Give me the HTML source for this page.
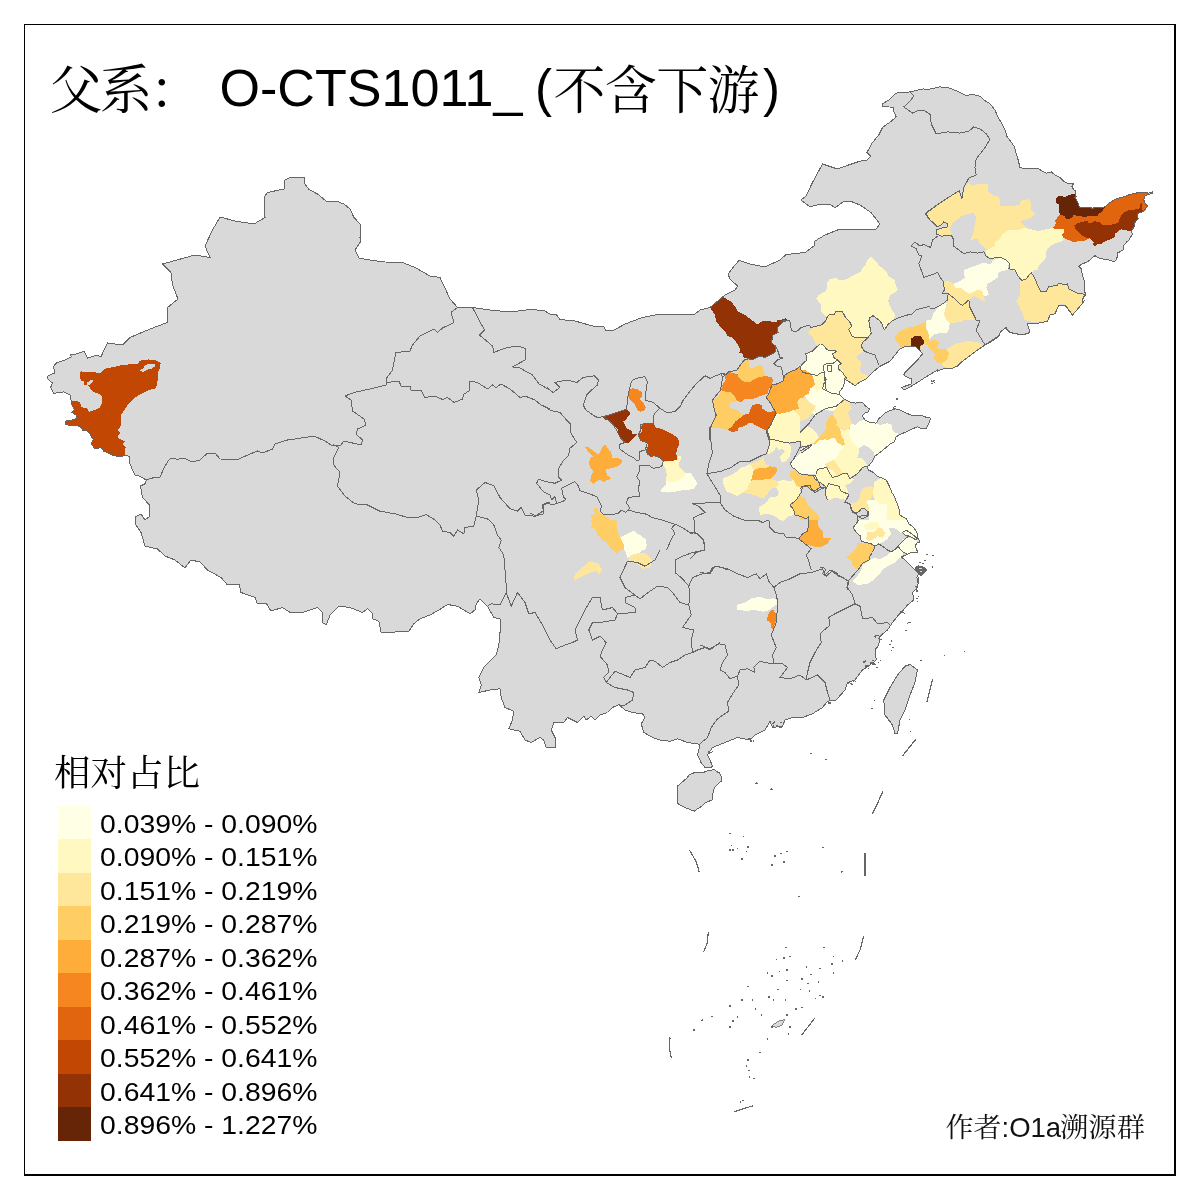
<!DOCTYPE html>
<html lang="zh"><head><meta charset="utf-8"><title>父系 O-CTS1011_</title>
<style>
html,body{margin:0;padding:0;background:#fff}
body{width:1200px;height:1200px;overflow:hidden;position:relative;font-family:"Liberation Sans","Noto Serif CJK SC",sans-serif}
svg{position:absolute;left:0;top:0;display:block}
.cjk{font-family:"Liberation Serif","Noto Serif CJK SC",serif;font-weight:400}
.lat{font-family:"Liberation Sans",sans-serif}
</style></head><body>
<svg width="1200" height="1200" viewBox="0 0 1200 1200" shape-rendering="crispEdges">
<rect x="0" y="0" width="1200" height="1200" fill="#fff"/>

<g fill="#d9d9d9" stroke="#666" stroke-width="1" stroke-linejoin="round">
<path d="M304,177 291,177 285,180 284,189 267.5,192.5 264,197.5 264,204 265,217.5 254,224 235,221 220,217 212.5,230 205,246 210,257.5 195,255 162.5,264 171,272.5 172.5,285 178,299 167.5,307.5 167.5,322.5 150,329 130,337.5 122.5,345 107.5,343 101.2,356.2 95,355.6 87.5,358.1 85.6,353.8 83.8,351.2 77.5,353.8 70.6,355 71.2,356.9 65,360 56.2,363.1 53.8,366.2 54.4,373.1 47.5,376.2 48.1,379.4 52.5,383.1 50.6,387.5 52.5,391.2 53.8,393.8 57.5,392.5 63.8,391.9 70,395 71.2,400.6 71.9,405 74.4,409.4 71.9,412.5 76.2,415 76.9,418.1 72.5,420 65,421.2 65,423.8 70,425.6 73.8,425.6 80,426.2 82.5,430 87.5,431.2 90,433.8 93.1,439.4 91.2,443.8 95,448.8 101.2,447.5 103.8,451.2 108.1,453.1 113.8,455.6 120,456.9 124.4,455.6 129.4,456.2 130,463.8 132.5,470 135,475 140,476.2 146.2,480 145,483.8 140,486.2 141.2,490 142.5,497.5 149.5,505 150,516 145,520 141,514 135,517 136,525 141,532.5 145,546 157.5,549 165,556 175,560 185,568 191,560 200,562 207.5,570 221,577.5 227.5,585 239,584 241,592.5 255,597.5 257.5,604 266,603 271,611 282.5,607.5 291,613 302.5,612.5 317.5,607.5 322.5,612.5 322.5,622.5 326.2,625 330,615 338.8,606.2 350,607.5 362.5,612.5 367.5,608.8 372.5,613.8 372.5,618.8 378.8,621.2 381.2,632.5 395,632 408.8,631.2 413.8,623.8 420,618.8 430,615 438.8,610 447.5,604.5 457.5,606.2 470,613.8 475,610 476.2,603.8 480,598.8 487.5,606.2 493.8,617.5 500,618.8 500,632.5 498.8,645 496.2,655 491.2,660 483.8,667.5 478.8,677.5 481.2,685 478.8,692.5 490,690 500,688.8 501.2,697.5 505,707.5 513.8,711.2 512.5,720 508.8,728.8 520,731.2 525,740 531.2,742.5 540,737.5 543.8,740 546.2,747.5 555,748 555,737.5 551.2,730 553.8,722.5 563.8,722.5 567.5,717.5 577.5,722.5 583.8,716.2 586.2,720 591.2,716.2 595,720 600,715 607.5,712.5 612.5,707.5 618.8,704.5 625,710 632.5,712.5 642.5,713.8 645,717.5 641.2,723.8 643.8,732.5 652.5,737.5 660,740 670,741.2 677.5,738.8 687.5,742.5 697.5,743.8 700,745 697.5,755 701,762.5 705,767.5 711,767.5 712.5,766 710,760 707.5,755 712.5,747.5 725,742.5 737.5,737.5 750,740 755,735 765,730 770,721.2 772.5,727.5 782.5,726.2 785,720 792.5,717.5 802.5,717.5 812.5,713.8 822.5,707.5 827.5,701.2 836.2,700 845,690 847.5,682.5 855,680 862.5,670 870,665 876.2,660 875,650 878.8,645 880,636.2 887.5,630 892.5,622.5 897.5,616.2 902.5,611.2 907.5,605 913.8,600 912.5,592.5 917.5,587.5 918.8,577.5 917.5,582.5 916.9,577.5 918.8,573.8 915,570 910,565 905,560 901.2,556.9 907.5,554.4 910,552.9 917.5,552.9 916.9,550 915,546.2 916.9,543.1 920,541.9 917.5,537.5 916.9,532.5 913.8,527.5 908.8,523.8 906.2,518.8 900,515 898.8,508.1 896.2,501.2 893.1,493.8 892.5,493.8 888.8,485 886.2,480 877.5,476.2 872.5,471.9 868.1,470 867.5,466.2 869.4,465 872.5,461.2 875,456.2 880,452.5 886.2,447.5 890,443.8 893.8,442.5 896.2,436.9 900,434.4 906.2,431.9 912.5,428.8 917.5,426.9 921.9,428.8 926.2,428.8 928.8,423.8 930.6,418.1 925,416.9 920,415 912.5,415.6 906.2,413.1 900,410 895,408.8 890,410.6 885,413.1 878.8,418.8 876.2,423.1 870,422.5 865,420 862.5,416.2 864.4,413.1 868.1,411.9 869.4,408.8 865.6,406.2 862.5,402.5 855,403.1 850,401.9 843.8,398.8 839.4,394.4 840,391.2 843.8,386.2 844.4,378.8 855,385.6 860,381.9 866.2,378.8 868.8,376.2 872.5,372.5 880,366.2 890,361.2 895,355 900,348.8 906.2,346.2 911.2,346.2 915.6,346.9 920,350.6 922.5,353.8 917.5,360 911.2,366.2 905,372.5 903.8,375 907.5,377.5 911.2,378.8 911.9,383.8 905,386.2 901.2,387.5 903.8,390 911.2,386.2 917.5,382.5 925,377.5 931.2,373.8 937.5,370 937.5,371.2 945,368.1 952.5,368.1 957.5,366.2 962.5,361.2 967.5,357.5 972.5,353.8 977.5,350 983.1,346.2 990,342.5 997.5,337.5 1001.2,331.2 1006.2,327.5 1006.2,328.8 1010,332.5 1022.5,335 1030,332.5 1027.5,323.8 1035,323.8 1047.5,321.2 1050,315 1055,313.8 1058.8,305 1065,305 1072.5,315 1080,306.2 1085,300 1080,306.2 1082.5,303.8 1083.1,297.5 1085.6,295 1085,292.5 1084.4,281.2 1082.5,275 1081.2,268.8 1078.8,266.2 1082.5,263.8 1087.5,261.9 1091.2,258.8 1095,255.6 1100,258.8 1107.5,259.4 1114.4,261.9 1116.9,258.8 1117.5,252.5 1120,251.9 1123.8,249.4 1123.1,246.2 1126.2,242.5 1128.8,240 1132.5,234.4 1131.2,231.2 1133.8,227.5 1135,222.5 1138.1,218.8 1137.5,213.8 1143.8,211.2 1147.5,206.2 1145,203.1 1143.8,200 1145,195.6 1148.8,194.4 1152.5,193.5 1152.5,191.9 1148.8,193.1 1145,192.8 1137.5,192.8 1130,194.4 1123.8,196.9 1116.2,198.8 1108.8,203.1 1105,206.9 1092.5,208.1 1086.2,207.5 1079.4,207.5 1078.1,203.1 1075,197.5 1076.2,196.2 1075,193.8 1075.6,190.6 1073.8,190 1071.9,186.2 1073.8,183.1 1067.5,183.1 1063.8,181.2 1060,177.5 1055,175 1051.2,171.9 1046.2,173.1 1042.5,171.2 1038.8,168.8 1032.5,168.8 1025,168.8 1020,167.5 1017.5,157.5 1014,146 1010,140.6 1006.9,136.2 1005,130 1001.2,122.5 997.5,116.2 995,110 990,103.8 985,100.6 980,96.2 972.5,94.4 966.2,95.6 958.8,91.9 950,88.1 940,86.9 925,90 923.8,88.8 910,91.9 896.2,93.1 888.8,100 882.5,103.8 882.5,106.2 893.8,107.5 893.8,111.2 896.2,116.9 891.2,121.2 882.5,127.5 878.8,135 872.5,142.5 866.9,152.5 870.6,156.2 866.9,160 860,161.2 850,164.5 837.5,169 822.5,164 812.5,182.5 806,196 801,200 810,207 820,204 830,204 835,208 844,201 850,201 860,205 871,212.5 880,224 876,229 862.5,230 850,229.5 837.5,230 825,235 815,241 814,246 805,252.5 786,254.5 780,260 765,267 750,264 739,260.5 735,265 728,274 730,279 737.5,286 735,290 725,295 710,307.5 700,310 695,314 680,315 657.5,314.5 642.5,317.5 625,324 612.5,331 606,330.5 604,327 592.5,326 575,321 560,319.5 556,314 550,314 544,310.5 530,309.5 510,312 490,310 472.5,307.5 457.5,307.5 450,299 444,286 440,277.5 430,276 415,267.5 402.5,262.5 385,262 372.5,260.5 359,258 355,250 361,241 360,237.5 361,225 354,217.5 350,209 344,204 336,201 326,201 317.5,194 309,189.5 305,184Z"/>
<path d="M677.9,785.8 687.5,777.5 689.2,774.6 695,772.5 697.5,772.9 704.2,772.1 709.2,770.4 714.2,769.6 717.5,772.1 719.6,772.5 721.7,778.3 721.2,781.2 717.5,784.2 714.2,788.3 712.5,795 712.1,800 705.8,802.5 702.5,805.8 698.3,808.3 694.2,811.2 689.2,809.2 683.3,806.7 678.3,804.2 677.1,801.7 677.9,797.5 677.1,793.3Z"/>
<path d="M910,664.5 917.5,670 915,682.5 910,695 905,710 900,720 897.5,733.8 895,733.8 892.5,725 885,715 883.8,700 890,687.5 897.5,675 905,666.2Z"/>
<path d="M902.5,532.5 906.2,530 912.5,534.4 917.5,538.8 916.2,540 910,536.2 905,535Z"/>
</g>
<g fill="#fff" stroke="#666" stroke-width="1">
</g>
<clipPath id="landclip">
<path d="M304,177 291,177 285,180 284,189 267.5,192.5 264,197.5 264,204 265,217.5 254,224 235,221 220,217 212.5,230 205,246 210,257.5 195,255 162.5,264 171,272.5 172.5,285 178,299 167.5,307.5 167.5,322.5 150,329 130,337.5 122.5,345 107.5,343 101.2,356.2 95,355.6 87.5,358.1 85.6,353.8 83.8,351.2 77.5,353.8 70.6,355 71.2,356.9 65,360 56.2,363.1 53.8,366.2 54.4,373.1 47.5,376.2 48.1,379.4 52.5,383.1 50.6,387.5 52.5,391.2 53.8,393.8 57.5,392.5 63.8,391.9 70,395 71.2,400.6 71.9,405 74.4,409.4 71.9,412.5 76.2,415 76.9,418.1 72.5,420 65,421.2 65,423.8 70,425.6 73.8,425.6 80,426.2 82.5,430 87.5,431.2 90,433.8 93.1,439.4 91.2,443.8 95,448.8 101.2,447.5 103.8,451.2 108.1,453.1 113.8,455.6 120,456.9 124.4,455.6 129.4,456.2 130,463.8 132.5,470 135,475 140,476.2 146.2,480 145,483.8 140,486.2 141.2,490 142.5,497.5 149.5,505 150,516 145,520 141,514 135,517 136,525 141,532.5 145,546 157.5,549 165,556 175,560 185,568 191,560 200,562 207.5,570 221,577.5 227.5,585 239,584 241,592.5 255,597.5 257.5,604 266,603 271,611 282.5,607.5 291,613 302.5,612.5 317.5,607.5 322.5,612.5 322.5,622.5 326.2,625 330,615 338.8,606.2 350,607.5 362.5,612.5 367.5,608.8 372.5,613.8 372.5,618.8 378.8,621.2 381.2,632.5 395,632 408.8,631.2 413.8,623.8 420,618.8 430,615 438.8,610 447.5,604.5 457.5,606.2 470,613.8 475,610 476.2,603.8 480,598.8 487.5,606.2 493.8,617.5 500,618.8 500,632.5 498.8,645 496.2,655 491.2,660 483.8,667.5 478.8,677.5 481.2,685 478.8,692.5 490,690 500,688.8 501.2,697.5 505,707.5 513.8,711.2 512.5,720 508.8,728.8 520,731.2 525,740 531.2,742.5 540,737.5 543.8,740 546.2,747.5 555,748 555,737.5 551.2,730 553.8,722.5 563.8,722.5 567.5,717.5 577.5,722.5 583.8,716.2 586.2,720 591.2,716.2 595,720 600,715 607.5,712.5 612.5,707.5 618.8,704.5 625,710 632.5,712.5 642.5,713.8 645,717.5 641.2,723.8 643.8,732.5 652.5,737.5 660,740 670,741.2 677.5,738.8 687.5,742.5 697.5,743.8 700,745 697.5,755 701,762.5 705,767.5 711,767.5 712.5,766 710,760 707.5,755 712.5,747.5 725,742.5 737.5,737.5 750,740 755,735 765,730 770,721.2 772.5,727.5 782.5,726.2 785,720 792.5,717.5 802.5,717.5 812.5,713.8 822.5,707.5 827.5,701.2 836.2,700 845,690 847.5,682.5 855,680 862.5,670 870,665 876.2,660 875,650 878.8,645 880,636.2 887.5,630 892.5,622.5 897.5,616.2 902.5,611.2 907.5,605 913.8,600 912.5,592.5 917.5,587.5 918.8,577.5 917.5,582.5 916.9,577.5 918.8,573.8 915,570 910,565 905,560 901.2,556.9 907.5,554.4 910,552.9 917.5,552.9 916.9,550 915,546.2 916.9,543.1 920,541.9 917.5,537.5 916.9,532.5 913.8,527.5 908.8,523.8 906.2,518.8 900,515 898.8,508.1 896.2,501.2 893.1,493.8 892.5,493.8 888.8,485 886.2,480 877.5,476.2 872.5,471.9 868.1,470 867.5,466.2 869.4,465 872.5,461.2 875,456.2 880,452.5 886.2,447.5 890,443.8 893.8,442.5 896.2,436.9 900,434.4 906.2,431.9 912.5,428.8 917.5,426.9 921.9,428.8 926.2,428.8 928.8,423.8 930.6,418.1 925,416.9 920,415 912.5,415.6 906.2,413.1 900,410 895,408.8 890,410.6 885,413.1 878.8,418.8 876.2,423.1 870,422.5 865,420 862.5,416.2 864.4,413.1 868.1,411.9 869.4,408.8 865.6,406.2 862.5,402.5 855,403.1 850,401.9 843.8,398.8 839.4,394.4 840,391.2 843.8,386.2 844.4,378.8 855,385.6 860,381.9 866.2,378.8 868.8,376.2 872.5,372.5 880,366.2 890,361.2 895,355 900,348.8 906.2,346.2 911.2,346.2 915.6,346.9 920,350.6 922.5,353.8 917.5,360 911.2,366.2 905,372.5 903.8,375 907.5,377.5 911.2,378.8 911.9,383.8 905,386.2 901.2,387.5 903.8,390 911.2,386.2 917.5,382.5 925,377.5 931.2,373.8 937.5,370 937.5,371.2 945,368.1 952.5,368.1 957.5,366.2 962.5,361.2 967.5,357.5 972.5,353.8 977.5,350 983.1,346.2 990,342.5 997.5,337.5 1001.2,331.2 1006.2,327.5 1006.2,328.8 1010,332.5 1022.5,335 1030,332.5 1027.5,323.8 1035,323.8 1047.5,321.2 1050,315 1055,313.8 1058.8,305 1065,305 1072.5,315 1080,306.2 1085,300 1080,306.2 1082.5,303.8 1083.1,297.5 1085.6,295 1085,292.5 1084.4,281.2 1082.5,275 1081.2,268.8 1078.8,266.2 1082.5,263.8 1087.5,261.9 1091.2,258.8 1095,255.6 1100,258.8 1107.5,259.4 1114.4,261.9 1116.9,258.8 1117.5,252.5 1120,251.9 1123.8,249.4 1123.1,246.2 1126.2,242.5 1128.8,240 1132.5,234.4 1131.2,231.2 1133.8,227.5 1135,222.5 1138.1,218.8 1137.5,213.8 1143.8,211.2 1147.5,206.2 1145,203.1 1143.8,200 1145,195.6 1148.8,194.4 1152.5,193.5 1152.5,191.9 1148.8,193.1 1145,192.8 1137.5,192.8 1130,194.4 1123.8,196.9 1116.2,198.8 1108.8,203.1 1105,206.9 1092.5,208.1 1086.2,207.5 1079.4,207.5 1078.1,203.1 1075,197.5 1076.2,196.2 1075,193.8 1075.6,190.6 1073.8,190 1071.9,186.2 1073.8,183.1 1067.5,183.1 1063.8,181.2 1060,177.5 1055,175 1051.2,171.9 1046.2,173.1 1042.5,171.2 1038.8,168.8 1032.5,168.8 1025,168.8 1020,167.5 1017.5,157.5 1014,146 1010,140.6 1006.9,136.2 1005,130 1001.2,122.5 997.5,116.2 995,110 990,103.8 985,100.6 980,96.2 972.5,94.4 966.2,95.6 958.8,91.9 950,88.1 940,86.9 925,90 923.8,88.8 910,91.9 896.2,93.1 888.8,100 882.5,103.8 882.5,106.2 893.8,107.5 893.8,111.2 896.2,116.9 891.2,121.2 882.5,127.5 878.8,135 872.5,142.5 866.9,152.5 870.6,156.2 866.9,160 860,161.2 850,164.5 837.5,169 822.5,164 812.5,182.5 806,196 801,200 810,207 820,204 830,204 835,208 844,201 850,201 860,205 871,212.5 880,224 876,229 862.5,230 850,229.5 837.5,230 825,235 815,241 814,246 805,252.5 786,254.5 780,260 765,267 750,264 739,260.5 735,265 728,274 730,279 737.5,286 735,290 725,295 710,307.5 700,310 695,314 680,315 657.5,314.5 642.5,317.5 625,324 612.5,331 606,330.5 604,327 592.5,326 575,321 560,319.5 556,314 550,314 544,310.5 530,309.5 510,312 490,310 472.5,307.5 457.5,307.5 450,299 444,286 440,277.5 430,276 415,267.5 402.5,262.5 385,262 372.5,260.5 359,258 355,250 361,241 360,237.5 361,225 354,217.5 350,209 344,204 336,201 326,201 317.5,194 309,189.5 305,184Z"/>
<path d="M677.9,785.8 687.5,777.5 689.2,774.6 695,772.5 697.5,772.9 704.2,772.1 709.2,770.4 714.2,769.6 717.5,772.1 719.6,772.5 721.7,778.3 721.2,781.2 717.5,784.2 714.2,788.3 712.5,795 712.1,800 705.8,802.5 702.5,805.8 698.3,808.3 694.2,811.2 689.2,809.2 683.3,806.7 678.3,804.2 677.1,801.7 677.9,797.5 677.1,793.3Z"/>
<path d="M910,664.5 917.5,670 915,682.5 910,695 905,710 900,720 897.5,733.8 895,733.8 892.5,725 885,715 883.8,700 890,687.5 897.5,675 905,666.2Z"/>
<path d="M902.5,532.5 906.2,530 912.5,534.4 917.5,538.8 916.2,540 910,536.2 905,535Z"/>
</clipPath>
<g stroke="none" clip-path="url(#landclip)">
<path fill="#c14702" d="M79.4,376.2 80.6,371.2 86.2,372.5 92.5,371.9 100,373.1 106.2,368.1 115,366.9 121.2,365 130,364.4 137.5,363.8 140,360.6 148.8,359.4 156.2,360.6 160.6,363.1 160,367.5 157.5,373.8 157.5,381.2 156.2,388.1 148.8,390 141.2,393.8 135,397.5 128.8,403.8 125,408.8 121.2,415 121.2,425 118.1,430 120,433.1 117.5,436.9 121.2,440 125,441.2 122.5,444.4 125.6,447.5 124.4,455.6 120,456.9 113.8,455.6 108.1,453.1 103.8,451.2 101.2,447.5 95,448.8 91.2,443.8 93.1,439.4 90,433.8 87.5,431.2 82.5,430 80,426.2 73.8,425.6 70,425.6 65,423.8 65,421.2 72.5,420 76.9,418.1 76.2,415 71.9,412.5 74.4,409.4 71.9,405 71.2,400.6 76.2,400.6 80,402.5 81.2,406.9 87.5,408.8 88.8,411.9 95,410 100,407.5 101.9,402.5 101.9,396.9 98.8,393.8 93.8,391.9 90,388.1 88.1,385.6 91.2,383.8 93.8,380.6 90.6,380 87.5,382.5 86.2,385.6 83.8,385 84.4,381.2 81.2,380.6Z"/>
<path fill="#fee79b" d="M925,212.5 960,190 962.5,196 970,182.5 986,184 987.5,192.5 999,196 1000,207.5 1010,205 1022.5,200 1030,201 1030,210 1035,215 1025,222.5 1022.5,229 1010,229 1000,236 994,247.5 986,250 980,240 970,240 975,232.5 976,215 967.5,212.5 955,219 950,227.5 951,235 935,235 936,230 946,226 945,222.5 935,226Z"/>
<path fill="#fff8c1" d="M994,247.5 1000,236 1010,229 1025,230 1040,231 1052.5,229 1064,230 1062.5,239 1055,245 1047.5,250 1042.5,262.5 1035,270 1030,272.5 1022.5,281 1016,272.5 1010,270 1007.5,260 1000,257.5 990,260 985,254Z"/>
<path fill="#fee79b" d="M1022.5,281 1030,272.5 1035,277.5 1040,291 1047.5,287.5 1057.5,284 1067.5,282.5 1070,290 1084,294 1080,304 1074,315 1067.5,309 1057.5,306 1055,315 1047.5,321 1035,322.5 1025,320 1022.5,312.5 1016,300 1020,291Z"/>
<path fill="#ffffe5" d="M955,285 964,271 975,265 990,260 1000,257.5 1007.5,260 1007.5,269 997.5,272.5 990,280 986,287.5 987.5,296 980,295 975,291 970,299 965,295 957.5,290Z"/>
<path fill="#fee79b" d="M944,282.5 955,285 957.5,290 965,295 966,305 960,301 950,295 944,291Z"/>
<path fill="#fee79b" d="M948.1,296.2 950,293.8 960,305 967.5,301.2 971.9,312.5 967.5,315.6 963.1,316.9 962.5,321.9 956.2,322.5 950,323.1 946.2,320 944.4,315 948.1,312.5 945.6,307.5 947.5,302.5Z"/>
<path fill="#ffffe5" d="M945.6,307.5 948.1,312.5 944.4,315 946.2,320 950,323.1 948.8,328.8 947.5,332.5 941.2,333.1 935,333.8 929.4,338.8 928.1,332.5 926.2,328.8 925,322.5 927.5,320 932.5,316.9 933.8,312.5 938.8,308.8 942.5,305Z"/>
<path fill="#fece65" d="M895,336.9 897.5,333.1 902.5,330 908.8,327.5 915,326.9 921.2,323.1 925,321.9 926.2,328.8 928.1,332.5 929.4,338.8 925,342.5 921.2,347.5 918.1,348.8 913.8,346.2 906.2,346.2 902.5,346.9 898.8,343.8 895.6,340Z"/>
<path fill="#662506" d="M910.6,338.1 915,336.9 921.2,335.6 921.9,338.8 924.4,340 923.8,343.8 920.6,345.6 920,350 918.1,348.8 915.6,346.2 911.2,346.2Z"/>
<path fill="#fece65" d="M926.9,341.9 933.8,340 938.1,340.6 938.8,343.8 936.2,348.1 941.2,348.8 946.2,349.4 948.8,352.5 948.1,358.1 945,361.2 941.9,363.8 937.5,362.5 933.8,359.4 935,353.8 931.2,350.6 928.8,346.2 925.6,344.4Z"/>
<path fill="#fee79b" d="M946.2,349.4 955,343.8 966.2,341.2 976.2,341.9 981.2,343.8 983.1,346.2 977.5,350 972.5,353.8 967.5,357.5 962.5,361.2 957.5,366.2 952.5,368.1 947.5,368.8 943.8,366.2 941.9,363.8 945,361.2 948.1,358.1 948.8,352.5Z"/>
<path fill="#fee79b" d="M943.8,290 966.2,290 968.8,298.8 967.5,301.2 960,305 950,293.8 946.2,293.8Z"/>
<path fill="#fece65" d="M593.3,507.5 596.7,507.5 599.2,512.5 606.7,516.7 610,520 617.5,521.7 616.7,533.3 620.8,538.3 624.2,545 623.3,550 613.3,550 608.3,543.3 601.7,540 596.7,533.3 595.8,529.2 590.8,527.5 592.5,524.2 596.7,521.7 591.7,518.3 590.8,515 595,514.2Z"/>
<path fill="#ffffe5" d="M620.8,538.3 628.3,534.2 634.2,530.8 638.3,535 645,538.3 646.7,545 645,550 624.2,550 624.2,545Z"/>
<path fill="#ffffe5" d="M736.7,605 745,602.5 751.7,598.3 760,596.7 766.7,599.2 773.3,598.3 777.5,600 777.5,604.2 773.3,606.7 770,610 763.3,611.7 755,610 746.7,610.8 737.5,610Z"/>
<path fill="#f68720" d="M770,610.8 773.3,610 776.7,615 777.5,619.2 775,623.3 773.3,629.2 771.7,629.2 770.8,623.3 766.7,620 768.3,615Z"/>
<path fill="#fff8c1" d="M873.8,482.5 878.8,477.5 887.5,480.6 889.4,486.2 893.1,493.8 896.2,501.2 898.8,508.1 900,515 895,515 890,513.8 885,513.8 883.8,507.5 878.8,502.5 873.8,498.8 871.2,493.8 873.8,488.8Z"/>
<path fill="#fee79b" d="M861.2,490 866.2,485.6 873.8,486.2 873.8,488.8 871.2,493.8 873.8,498.8 870,500 866.2,501.9 868.8,506.2 869.4,510 867.5,512.5 865,508.8 861.9,508.1 860,511.2 856.2,513.8 852.5,511.9 850,505 851.2,503.1 858.8,501.2 860,495Z"/>
<path fill="#ffffe5" d="M866.2,501.9 870,500 873.8,498.8 878.8,502.5 883.8,507.5 885,513.8 890,513.8 895,515 900,515 906.2,518.8 908.8,523.8 913.8,527.5 916.9,532.5 917.5,537.5 912.5,534.4 906.2,530 902.5,532.5 900,532.5 895,528.1 888.1,527.5 891.2,533.8 887.5,538.8 882.5,542.5 877.5,544.4 873.8,545 871.2,543.1 866.2,542.5 861.2,540 860,535 856.2,532.5 853.1,528.1 855,523.8 858.1,521.2 857.5,516.2 865,517.5 867.5,515 869.4,510 868.8,506.2Z"/>
<path fill="#fff8c1" d="M863.8,525 870,522.5 877.5,521.9 880,527.5 877.5,530 870,530 865,530Z"/>
<path fill="#fee79b" d="M867.5,532.5 876.2,531.2 877.5,527.5 881.2,527.5 885,532.5 882.5,537.5 877.5,536.2 873.8,538.8 870,541.2 866.2,538.8Z"/>
<path fill="#ffffe5" d="M903.8,538.8 907.5,538.8 915,546.2 916.9,550 917.5,552.5 910,552.5 907.5,554.4 903.8,552.5 900,548.8 898.1,546.2 901.2,542.5Z"/>
<path fill="#fece65" d="M857.5,542.5 866.2,542.5 871.2,543.8 875,546.2 872.5,552.5 870,555 870,560 862.5,562.5 861.2,565 856.2,569.4 852.5,565 851.2,560 845.6,557.5 851.2,553.8 856.2,548.8Z"/>
<path fill="#ffffe5" d="M900,548.8 903.8,552.5 901.2,556.9 895,562.5 887.5,566.2 882.5,570 878.8,575 873.8,580 867.5,583.8 857.5,585 852.5,581.2 857.5,576.2 861.2,570 862.5,565 870,560 873.8,558.1 880,558.8 887.5,555 891.2,551.9 895,550 898.1,546.2Z"/>
<path fill="#f68720" d="M628.8,390 632.5,388.1 637.5,389.4 641.9,391.9 642.5,395 640,399.4 643.8,403.1 645.6,407.5 645,410 640.6,411.9 637.5,410 635,405 632.5,401.9 628.8,398.8 628.1,394.4Z"/>
<path fill="#933204" d="M602.5,416.2 612.5,413.8 620,411.9 625,410 628.1,410.6 630.6,413.8 627.5,416.9 626.2,420 623.1,421.2 625,425 626.9,428.8 631.2,430 632.5,433.8 636.9,434.4 633.8,438.1 628.8,442.5 625,442.5 621.2,439.4 618.8,435.6 616.9,432.5 618.1,429.4 615,426.9 611.2,422.5 607.5,419.4 605.6,420.6Z"/>
<path fill="#c14702" d="M642.5,423.8 653.1,423.8 656.2,427.5 662.5,429.4 668.8,432.5 673.8,435 678.1,438.1 679.4,443.8 677.5,448.1 676.2,453.1 677.5,460 668.8,461.2 662.5,460.6 660,457.5 656.2,456.2 650,456.9 646.9,453.8 645.6,450 647.5,446.9 647.5,442.5 640,441.2 638.8,435 641.9,431.2 641.2,426.9Z"/>
<path fill="#feac3a" d="M585,447.5 588.1,446.9 593.8,451.2 598.8,454.4 603.1,445.6 606.2,445 608.8,450 611.2,451.9 611.9,457.5 617.5,457.5 621.2,459.4 622.5,462.5 618.8,465.6 612.5,468.1 605.6,469.4 606.9,475 611.2,478.8 606.2,480.6 603.8,482.5 600,479.4 596.2,481.2 593.8,483.8 590,480.6 591.2,476.2 593.1,471.2 590,467.5 588.8,462.5 590.6,458.1 593.1,456.2 588.8,452.5Z"/>
<path fill="#fff8c1" d="M661.2,462.5 668.8,461.2 677.5,460 678.1,456.2 680.6,456.2 681.2,459.4 678.8,462.5 678.8,466.9 682.5,470 686.2,473.1 683.1,476.2 680,480 675,481.9 668.8,482.5 665.6,480 666.9,473.8 665,467.5Z"/>
<path fill="#ffffe5" d="M686.2,473.1 691.2,472.5 691.9,476.9 694.4,481.2 697.5,483.8 693.8,486.9 694.4,489.4 687.5,490 680,490.6 673.8,491.9 667.5,492.5 660.6,491.9 661.9,488.1 665.6,485 665.6,480 668.8,482.5 675,481.9 680,480 683.1,476.2Z"/>
<path fill="#fff8c1" d="M871.2,256.9 876.2,261.9 880,266.2 886.2,271.2 888.8,276.2 894.4,280 896.2,286.2 898.1,290 893.1,293.8 890,295 888.1,301.2 890,306.2 895.6,316.2 891.2,321.2 887.5,325 884.4,330 881.2,322.5 878.8,320 875,316.2 870.6,317.5 868.8,321.2 870.6,327.5 871.9,333.1 868.8,336.9 861.2,337.5 853.1,336.9 848.8,330 851.9,326.2 850,321.2 846.2,317.5 842.5,312.5 836.2,311.9 834.4,314.4 828.8,315 826.9,318.1 821.2,311.2 821.2,305 816.2,298.8 818.8,295 824.4,291.9 827.5,288.1 826.9,282.5 830,278.8 836.2,278.1 840,280.6 847.5,278.8 852.5,275.6 861.2,271.2 862.5,268.1 866.2,263.8 866.9,260Z"/>
<path fill="#fee79b" d="M808.1,332.5 813.8,326.2 821.2,325 825.6,321.2 826.9,318.1 828.8,315 834.4,314.4 836.2,311.9 842.5,312.5 846.2,317.5 850,321.2 851.9,326.2 848.8,330 853.1,336.9 861.2,337.5 867.5,338.1 866.2,340 862.5,342.5 861.2,346.2 863.8,350.6 860,353.8 856.2,356.2 856.9,358.8 861.2,361.2 860,371.2 862.5,373.8 868.8,376.2 866.2,378.8 860,381.9 855,385.6 851.2,382.5 847.5,379.4 845,376.2 842.5,372.5 838.8,369.4 838.8,365 841.2,363.8 837.5,360 833.8,357.5 832.5,353.8 836.2,351.9 835,350.6 827.5,350 822.5,344.4 820,343.8 816.2,345 813.8,340 811.9,336.2Z"/>
<path fill="#ffffe5" d="M820.6,343.8 822.5,344.4 827.5,350 835,350.6 836.2,351.9 832.5,353.8 833.8,357.5 837.5,360 835,361.9 832.5,363.8 827.5,363.1 823.8,365 823.8,370 824.4,372.5 820,373.1 817.5,375.6 811.9,374.4 803.1,372.5 800.6,369.4 801.2,365 806.2,360.6 806.9,356.9 805.6,353.8 812.5,351.2 817.5,346.2Z"/>
<path fill="#ffffe5" d="M837.5,360 841.2,363.8 838.8,365 838.8,369.4 842.5,372.5 845,376.2 847.5,379.4 843.8,382.5 842.5,386.9 838.8,390 826.2,390 825,381.2 824.4,372.5 823.8,370 823.8,365 827.5,363.1 832.5,363.8 835,361.9Z"/>
<path fill="#fff8c1" d="M813.1,376.2 817.5,375.6 820,373.1 824.4,372.5 825,381.2 826.2,390 815,390 814.4,382.5Z"/>
<path fill="#fece65" d="M895,337.5 898.8,332.5 903.8,329.4 911.2,327.5 918.8,325 923.1,322.5 925.6,321.2 926.2,327.5 925.6,332.5 927.5,338.8 930,340 930,350 927.5,345 925,340 921.2,336.2 915,337.5 910.6,338.8 911.2,346.2 906.2,346.2 900,347.5 897.5,342.5Z"/>
<path fill="#662506" d="M910.6,338.8 915,336.2 920.6,335.6 921.9,338.8 924.4,340 923.8,343.8 920.6,345.6 920,350.6 917.5,348.8 915.6,346.2 911.2,346.2Z"/>
<path fill="#933204" d="M710,307.5 720.6,296.2 724.4,297.5 731.2,301.9 735,306.2 737.5,311.2 745,315 750,318.8 757.5,324.4 762.5,321.2 770,321.2 776.2,322.5 777.5,320 782.5,319.4 785.6,318.1 788.1,320 783.1,321.9 780,325.6 777.5,327.5 778.1,332.5 773.1,335 772.5,340 771.2,342.5 775.6,346.2 775,352.5 770,355 765,357.5 758.8,356.2 752.5,360 748.8,358.8 743.8,358.1 742.5,353.8 739.4,352.5 740,348.8 737.5,343.8 732.5,337.5 727.5,336.2 725,331.2 720,326.2 716.2,321.2 715,315Z"/>
<path fill="#fece65" d="M745,359.4 748.8,359.4 749.4,364.4 748.8,368.1 752.5,368.1 757.5,365.6 761.9,365 763.8,371.2 766.2,376.2 758.8,376.9 753.8,379.4 749.4,382.5 742.5,381.2 738.8,377.5 737.5,373.8 738.8,368.8 741.2,363.8Z"/>
<path fill="#f68720" d="M728.8,371.9 732.5,373.1 737.5,373.8 738.8,377.5 742.5,381.2 749.4,382.5 753.8,379.4 758.8,376.9 766.2,376.2 771.2,376.9 773.1,380 771.9,385 768.8,388.8 767.5,393.8 760,396.2 753.8,398.8 745,398.8 741.2,401.9 736.9,401.2 734.4,396.2 731.2,392.5 726.2,391.9 720.6,390 722.5,385 725.6,380 725,375Z"/>
<path fill="#fece65" d="M720.6,390 726.2,391.9 731.2,392.5 734.4,396.2 736.9,401.2 731.2,402.5 729.4,405 730,408.1 737.5,410 743.1,415 740,418.1 735.6,421.2 733.8,423.8 727.5,429.4 723.8,428.8 720,426.9 710.6,427.5 713.8,421.2 716.2,415 714.4,410 712.5,402.5 712.5,400 718.8,396.2Z"/>
<path fill="#e1640e" d="M751.9,405.6 757.5,403.8 761.9,405 762.5,408.8 767.5,411.9 775,411.2 776.2,413.1 772.5,420 770,426.2 768.1,431.2 765,430 760,426.2 755,424.4 750,422.5 746.2,425 740,426.2 737.5,430 733.8,431.9 727.5,429.4 733.8,423.8 735.6,421.2 740,418.1 743.1,415 748.8,413.8 750,410Z"/>
<path fill="#feac3a" d="M785,375 790,371.9 796.2,369.4 800,366.2 801.2,371.2 810,373.8 813.1,375 815,382.5 811.2,386.2 808.8,390 808.1,393.8 803.8,396.9 798.8,398.8 797.5,402.5 798.8,408.8 793.8,410 788.8,411.9 780,413.8 776.2,413.1 775,411.2 770,402.5 766.2,397.5 768.8,393.8 771.2,388.8 771.9,385 777.5,383.8 783.1,381.2Z"/>
<path fill="#fff8c1" d="M776.2,413.1 780,413.8 788.8,411.9 793.8,410 797.5,413.8 802.5,418.8 806.2,422.5 801.2,427.5 798.8,432.5 797.5,440 770,440 766.2,431.2 768.1,431.2 770,426.2 772.5,420Z"/>
<path fill="#fee79b" d="M798.8,398.8 803.8,396.9 808.1,393.8 811.2,400 815,404.4 820,405 816.2,410 811.2,415 806.2,422.5 802.5,418.8 797.5,413.8 793.8,410 798.8,408.8 797.5,402.5Z"/>
<path fill="#fff8c1" d="M813.1,375 815,373.8 823.8,371.9 825,376.2 823.8,382.5 820,385 815,382.5Z"/>
<path fill="#ffffe5" d="M815,382.5 820,385 823.8,388.8 831.2,392.5 840,393.8 840,402.5 833.8,408.8 827.5,413.8 821.2,415 816.2,410 820,405 815,404.4 811.2,400 808.1,393.8 808.8,390 811.2,386.2Z"/>
<path fill="#d9d9d9" d="M690,425 840,425 840,570 690,570Z"/>
<path fill="#fece65" d="M710,427.5 711.9,425 738.8,425 733.8,425 727.5,430 723.8,428.8 717.5,427.5Z"/>
<path fill="#e1640e" d="M738.8,423.8 772.5,423.8 770,426.2 767.5,431.2 762.5,428.8 757.5,426.2 752.5,423.8 747.5,423.8 743.8,426.2 738.8,427.5 737.5,431.2 732.5,431.9 727.5,430 733.8,425Z"/>
<path fill="#fff8c1" d="M772.5,423.8 805,423.8 802.5,425 798.8,430 797.5,436.2 800,441.2 796.2,442.5 790,443.1 782.5,441.9 775,440 770,439.4 767.5,431.2 770,426.2Z"/>
<path fill="#fff8c1" d="M770,439.4 775,440 782.5,441.9 790,443.1 791.2,448.8 790,456.2 786.2,461.2 781.2,462.5 780,456.2 785,451.2 782.5,448.8 778.8,450 776.2,446.2 775,450 771.2,452.5 767.5,455 768.8,447.5Z"/>
<path fill="#fff8c1" d="M805,423.8 820,423.8 817.5,427.5 820,433.8 815,441.2 810,443.8 806.2,446.2 800,447.5 800,441.2 797.5,436.2 798.8,430 802.5,425Z"/>
<path fill="#fece65" d="M825,425 840,425 840,442.5 836.2,438.8 832.5,436.2 827.5,438.8 822.5,441.2 817.5,443.8 815,441.2 820,433.8 822.5,428.8Z"/>
<path fill="#ffffe5" d="M790,463.8 793.8,458.8 800,453.8 806.2,448.8 811.2,445 817.5,443.8 822.5,441.2 827.5,438.8 832.5,436.2 836.2,438.8 840,442.5 840,460 833.8,461.2 825,463.1 830,466.2 835,472.5 840,475 840,477.5 832.5,476.2 827.5,470 822.5,468.1 817.5,470 815,475 807.5,475 800,473.8 796.2,470 792.5,467.5Z"/>
<path fill="#fee79b" d="M825,463.1 833.8,461.2 840,460 840,475 835,472.5 830,466.2Z"/>
<path fill="#fff8c1" d="M815,475 817.5,470 822.5,468.1 827.5,470 832.5,476.2 840,477.5 840,500 833.8,497.5 827.5,500 825,493.8 826.2,487.5 821.2,488.8 818.8,482.5Z"/>
<path fill="#fece65" d="M790,471.2 796.2,470 800,473.8 807.5,475 815,475 818.8,482.5 821.2,488.8 815,492.5 811.2,488.8 810,485 805,485 802.5,487.5 796.2,486.2 793.8,480 790,476.2Z"/>
<path fill="#fee79b" d="M750,463.8 757.5,461.2 763.8,457.5 765,463.8 770,466.2 765,468.1 760,467.5 753.8,470Z"/>
<path fill="#feac3a" d="M753.8,470 760,467.5 765,468.1 770,466.2 776.2,467.5 777.5,470 775,475 771.2,478.8 765,479.4 757.5,480 751.2,480.6 752.5,475Z"/>
<path fill="#fff8c1" d="M722.5,478.8 731.2,475 737.5,471.2 741.2,467.5 746.2,466.2 750,463.8 753.8,470 752.5,475 751.2,480.6 748.8,483.8 747.5,488.8 742.5,492.5 737.5,496.2 732.5,493.8 726.2,491.2 723.8,485Z"/>
<path fill="#fee79b" d="M747.5,488.8 748.8,483.8 751.2,480.6 757.5,480 765,479.4 771.2,478.8 777.5,481.2 778.8,485 776.2,487.5 771.2,488.8 767.5,493.8 763.8,498.8 760,497.5 755,495 748.8,493.8 742.5,492.5Z"/>
<path fill="#fff8c1" d="M777.5,481.2 783.8,480 790,481.2 793.8,480 796.2,486.2 802.5,487.5 801.2,492.5 798.8,496.2 796.2,500 790,505 793.8,510 795,515 788.8,516.2 783.8,521.2 780,520 775,516.2 767.5,513.8 760,515 758.8,507.5 762.5,505 766.2,502.5 770,497.5 777.5,496.2 778.8,492.5 776.2,487.5 778.8,485Z"/>
<path fill="#fece65" d="M790,505 796.2,500 798.8,496.2 805,496.9 807.5,502.5 812.5,506.2 817.5,508.8 820,515 817.5,518.8 812.5,516.2 808.8,516.2 806.2,518.8 800,516.2 795,515 793.8,510Z"/>
<path fill="#feac3a" d="M808.8,516.2 812.5,516.2 817.5,518.8 818.8,527.5 822.5,531.2 822.5,537.5 831.2,537.5 827.5,543.8 820,547.5 812.5,546.2 805,543.8 798.8,538.8 802.5,533.8 807.5,531.2 808.8,523.8Z"/>
<path fill="#ffffe5" d="M690,472.5 693.8,477.5 697.5,483.8 693.8,488.8 690,488.8Z"/>
<path fill="#d9d9d9" d="M800,370 950,370 950,520 800,520Z"/>
<path fill="#feac3a" d="M800,370 805,370 811.2,373.8 813.1,377.5 815,385 810,388.8 808.8,393.8 805,395 802.5,397.5 800,397.5Z"/>
<path fill="#fff8c1" d="M813.1,377.5 815,375 823.8,373.8 826.2,380 823.8,383.8 822.5,388.8 818.8,390 816.2,393.8 815,385Z"/>
<path fill="#ffffe5" d="M805,370 842.5,370 844.4,378.8 843.8,386.2 840,391.2 839.4,394.4 843.8,398.8 840,403.8 837.5,407.5 833.8,411.2 825,410 818.8,411.2 815,416.2 812.5,412.5 816.2,406.2 810,402.5 806.2,398.8 805,395 808.8,393.8 810,388.8 815,385 816.2,393.8 818.8,390 822.5,388.8 823.8,383.8 826.2,380 823.8,373.8 815,375 813.1,377.5 811.2,373.8Z"/>
<path fill="#fee79b" d="M842.5,370 860,370 862.5,373.8 868.8,375 865,380 858.8,382.5 855,385.6 851.2,382.5 847.5,380 844.4,378.8Z"/>
<path fill="#fee79b" d="M800,397.5 802.5,397.5 806.2,398.8 810,402.5 816.2,406.2 812.5,412.5 808.8,417.5 803.8,420 800,421.2Z"/>
<path fill="#fff8c1" d="M800,431.2 807.5,426.2 812.5,428.8 816.2,432.5 818.8,437.5 813.8,442.5 806.2,446.2 800,445Z"/>
<path fill="#fee79b" d="M843.8,400 850,401.9 850,405 851.9,408.8 848.1,412.5 850,418.8 852.5,423.8 850,425 846.2,423.8 842.5,420 837.5,421.2 835,418.8 833.1,415 833.8,411.2 837.5,407.5 840,403.8Z"/>
<path fill="#fece65" d="M830,415.6 833.1,415 835,418.8 837.5,421.2 836.2,425 840,428.8 841.2,435 843.8,440 845,445 842.5,445.6 837.5,442.5 835,438.1 831.2,438.1 828.8,440 825,439.4 818.8,440.6 815,445 813.8,442.5 818.8,437.5 822.5,433.8 826.2,428.8 825.6,423.8Z"/>
<path fill="#fee79b" d="M837.5,421.2 842.5,420 846.2,423.8 850,425 848.8,428.8 843.8,431.2 840,428.8 836.2,425Z"/>
<path fill="#ffffe5" d="M858.8,421.2 865,420 870,422.5 876.2,423.1 880,425 887.5,423.1 891.9,425 892.5,430 895,432.5 898.8,433.8 896.2,436.9 893.8,442.5 890,443.8 886.2,447.5 880,452.5 875,456.2 873.1,451.2 868.8,447.5 863.8,445 858.8,448.8 853.8,443.8 850.6,438.8 848.8,432.5 850,428.8 850,425 852.5,423.8 855.6,425Z"/>
<path fill="#fff8c1" d="M843.8,431.2 848.8,428.8 848.8,432.5 850.6,438.8 853.8,443.8 858.8,448.8 858.8,452.5 857.5,457.5 861.2,457.5 865,461.2 867.5,466.2 862.5,467.5 857.5,473.8 853.8,475 850,478.8 847.5,473.8 842.5,473.8 837.5,476.2 833.8,471.2 830,468.8 825,463.8 828.8,461.9 833.8,460 837.5,456.2 840,451.2 843.8,447.5 845,445 843.8,440 841.2,435 840,428.8Z"/>
<path fill="#fee79b" d="M825,463.8 828.8,461.9 833.8,460 837.5,465 841.2,471.2 842.5,473.8 837.5,476.2 833.8,471.2 830,468.8Z"/>
<path fill="#ffffe5" d="M800,450 806.2,446.2 812.5,443.8 815,445 818.8,440.6 825,439.4 828.8,440 831.2,438.1 835,438.1 837.5,442.5 842.5,445.6 845,445 843.8,447.5 840,451.2 837.5,456.2 833.8,460 828.8,461.9 825,463.8 826.9,467.5 817.5,469.4 816.2,473.8 800,473.8Z"/>
<path fill="#d9d9d9" d="M800,451.2 811.2,444.4 811.9,445.6 801.2,453.1Z"/>
<path fill="#fff8c1" d="M817.5,469.4 826.9,467.5 830,468.8 833.8,471.2 837.5,476.2 842.5,473.8 847.5,473.8 850,478.8 852.5,476.2 853.8,480 850,483.8 845,485 847.5,490 848.8,495 846.2,500 840,498.8 835,497.5 830,500 826.9,498.8 825.6,493.8 826.9,487.5 820,482.5 815,478.8 813.8,476.2 816.2,473.8Z"/>
<path fill="#fece65" d="M800,475 812.5,475.6 813.8,478.8 818.8,482.5 820,487.5 813.8,491.2 811.2,490 807.5,486.2 802.5,486.2 800,488.8Z"/>
<path fill="#fece65" d="M800,496.2 805,497.5 807.5,505 812.5,508.8 817.5,513.8 820,520 800,520Z"/>
<path fill="#fff8c1" d="M877.5,480 881.2,477.5 886.2,480 888.8,485 892.5,493.8 896.2,502.5 898.8,510 902.5,516.2 906.2,520 887.5,520 886.2,515 887.5,507.5 886.2,503.8 880,503.8 875,500 872.5,495 873.8,487.5 873.8,482.5Z"/>
<path fill="#fee79b" d="M861.2,490 865,487.5 871.2,486.2 873.8,487.5 872.5,495 870,500 866.2,501.2 868.8,507.5 868.8,511.2 863.8,507.5 860,508.8 856.2,513.8 852.5,512.5 850,503.8 855,502.5 858.8,500 860,495Z"/>
<path fill="#ffffe5" d="M866.2,501.2 870,500 875,500 880,503.8 886.2,503.8 887.5,507.5 886.2,515 887.5,520 868.8,520 868.8,511.2 868.8,507.5Z"/>
<path fill="#fece65" d="M591.2,520 615,520 617.5,530 620,540 623.8,545 617.5,553.8 610,547.5 605,540 597.5,535 595,527.5Z"/>
<path fill="#ffffe5" d="M620,537.5 632.5,531.2 640,535 646.2,540 646.2,547.5 640,552.5 632.5,555 627.5,557.5 625,550 623.8,545Z"/>
<path fill="#fee79b" d="M627.5,560 631.2,555 635,553.8 645,552.5 652.5,560 650,567.5 642.5,568.8 635,562.5Z"/>
<path fill="#fee79b" d="M573.8,580 575,573.8 582.5,567.5 590,561.2 598.8,563.8 602.5,570 600,573.8 595,571.2 587.5,573.8 580,577.5Z"/>
<path fill="#d9d9d9" d="M1020,160 1170,160 1170,310 1020,310Z"/>
<path fill="#662506" d="M1056.2,198.8 1058.8,195.6 1065,196.9 1068.8,195 1075,193.8 1076.2,196.2 1075,197.5 1078.1,203.1 1079.4,207.5 1086.2,207.5 1092.5,208.1 1105,206.9 1102.5,211.2 1098.8,213.8 1097.5,215.6 1090,215.6 1086.2,216.9 1078.8,216.2 1073.8,215 1071.9,218.1 1066.9,219.4 1064.4,216.2 1060,214.4 1058.8,210 1059.4,205 1056.2,202.5Z"/>
<path fill="#e1640e" d="M1053.1,228.1 1056.2,222.5 1054.4,221.2 1060,214.4 1064.4,216.2 1066.9,219.4 1071.9,218.1 1073.8,215 1078.8,216.2 1086.2,216.9 1090,215.6 1097.5,215.6 1098.8,213.8 1102.5,211.2 1105,206.9 1108.8,203.1 1116.2,198.8 1123.8,196.9 1130,194.4 1137.5,192.8 1145,192.8 1148.8,193.1 1145,195.6 1143.8,200 1145,203.1 1147.5,206.2 1143.8,211.2 1141.9,210 1142.5,203.1 1140.6,203.8 1140,208.1 1136.2,209.4 1130,210 1126.2,211.2 1122.5,213.8 1120,217.5 1118.8,221.9 1115,223.8 1110,225 1102.5,225 1100,222.5 1095,221.2 1091.9,222.5 1088.1,223.1 1087.5,220.6 1082.5,221.9 1077.5,223.1 1074.4,225.6 1075,228.8 1078.8,232.5 1082.5,235.6 1086.2,237.5 1089.4,238.1 1085,240.6 1080,240.6 1073.8,242.5 1070,240.6 1063.8,238.1 1061.9,235 1063.8,232.5 1063.8,229.4 1057.5,229.4Z"/>
<path fill="#933204" d="M1074.4,225.6 1077.5,223.1 1082.5,221.9 1087.5,220.6 1088.1,223.1 1091.9,222.5 1095,221.2 1100,222.5 1102.5,225 1110,225 1115,223.8 1118.8,221.9 1120,217.5 1122.5,213.8 1126.2,211.2 1130,210 1136.2,209.4 1140,208.1 1140.6,203.8 1142.5,203.1 1141.9,210 1143.8,211.2 1137.5,213.8 1138.1,218.8 1135,222.5 1133.8,227.5 1131.2,231.2 1121.2,229.4 1118.8,230.6 1115,233.8 1114.4,237.5 1110,239.4 1105,241.2 1101.2,243.8 1097.5,244.4 1094.4,246.2 1093.1,245 1093.8,241.9 1091.2,240 1089.4,238.1 1086.2,237.5 1082.5,235.6 1078.8,232.5 1075,228.8Z"/>
<path fill="#fee79b" d="M1020,201.2 1023.8,200 1027.5,199.4 1031.2,203.1 1030.6,208.8 1035,213.8 1032.5,216.9 1027.5,219.4 1020,221.2Z"/>
<path fill="#fee79b" d="M1020,221.2 1022.5,223.8 1026.2,227.5 1026.9,230 1020,229.4Z"/>
<path fill="#fff8c1" d="M1020,229.4 1027.5,230 1038.8,231.2 1047.5,228.8 1053.1,228.1 1057.5,229.4 1063.8,229.4 1063.8,232.5 1061.9,235 1063.8,238.1 1062.5,241.2 1056.2,243.1 1050,246.2 1046.9,250 1045,255 1043.8,261.2 1038.8,266.2 1037.5,270 1032.5,270 1030,273.8 1026.2,277.5 1023.8,280 1020,281.2Z"/>
<path fill="#fee79b" d="M1020,281.2 1023.8,280 1026.2,277.5 1030,273.8 1032.5,272.5 1036.2,280 1038.8,285 1041.2,291.9 1047.5,291.2 1048.8,286.9 1057.5,285 1058.8,283.1 1061.2,283.1 1062.5,285 1067.5,283.8 1068.8,288.8 1072.5,290.6 1077.5,293.1 1085,294.4 1085.6,295 1083.1,297.5 1082.5,303.8 1080,306.2 1075,310 1067.5,310 1063.1,303.8 1060,303.8 1057.5,307.5 1057.5,310 1020,310Z"/>
<path fill="#d9d9d9" d="M900,170 1020,170 1020,320 900,320Z"/>
<path fill="#fee79b" d="M925.6,213.8 933.8,207.5 942.5,201.2 950,196.2 958.1,190.6 961.2,198.8 963.8,192.5 965,186.2 968.1,183.1 972.5,185.6 980,183.8 987.5,183.8 987.5,191.2 992.5,195 999.4,196.9 1000,206.2 1007.5,206.2 1020,205 1023.8,200 1030,199.4 1030.6,210 1034.4,213.1 1032.5,216.2 1023.8,220 1020,221.9 1025,227.5 1017.5,230 1008.8,230 1002.5,233.8 1000,238.8 995,242.5 995,246.2 987.5,250 985,247.5 980,243.8 977.5,238.8 970,240 973.1,233.8 975,223.8 976.2,217.5 973.8,213.1 967.5,213.8 961.2,216.2 957.5,219.4 952.5,223.1 950,227.5 951.2,235 941.2,236.2 936.2,233.8 936.2,230 941.2,228.1 946.9,227.5 947.5,223.8 943.8,221.9 941.2,225 937.5,226.9 933.8,223.1 930,220Z"/>
<path fill="#fff8c1" d="M985,251.2 987.5,250 995,246.2 995,242.5 1000,238.8 1002.5,233.8 1008.8,230 1017.5,230 1025,227.5 1031.2,229.4 1038.8,231.2 1045,230 1050,228.8 1050,245 1046.2,251.2 1046.2,257.5 1041.2,263.8 1036.2,267.5 1032.5,272.5 1028.8,276.2 1026.2,278.8 1022.5,280.6 1018.8,277.5 1016.2,271.2 1010,270 1008.8,263.8 1006.2,260 1000,257.5 993.8,258.8 987.5,257.5Z"/>
<path fill="#ffffe5" d="M963.8,270 970,267.5 977.5,265 983.8,262.5 990,264.4 993.8,260 1000,257.5 1006.2,260 1008.8,263.8 1007.5,270 1001.2,271.2 997.5,273.8 997.5,277.5 992.5,281.2 987.5,283.8 986.2,287.5 988.8,295 983.8,296.2 982.5,292.5 980,290 975,290.6 970,293.8 965,291.9 961.2,287.5 955,288.1 953.8,283.8 960,281.2 965,277.5 963.8,273.8Z"/>
<path fill="#fee79b" d="M943.1,281.2 947.5,280.6 953.8,283.8 955,288.1 961.2,287.5 965,291.9 970,293.8 975,290.6 980,290 982.5,292.5 983.8,296.2 985,301.2 981.2,300 977.5,297.5 973.8,296.2 968.8,300 962.5,305.6 960,302.5 955,298.8 950,295 948.1,293.8 944.4,290Z"/>
<path fill="#fee79b" d="M948.1,293.8 950,295 955,298.8 960,302.5 962.5,305.6 968.8,300 970,307.5 973.8,315 975,320 946.2,320 943.8,313.8 946.2,306.2 947.5,300Z"/>
<path fill="#ffffe5" d="M931.2,320 933.8,312.5 938.8,306.9 943.8,303.1 946.9,302.5 946.2,306.2 943.8,313.8 946.2,320Z"/>
<path fill="#fee79b" d="M1021.9,281.9 1026.2,278.8 1031.2,272.5 1034.4,277.5 1037.5,285 1041.2,291.9 1046.2,291.9 1048.8,286.2 1050,286.2 1050,320 1023.8,320 1025,313.8 1020,307.5 1016.2,301.2 1020,295 1023.1,290Z"/>
<path fill="#ffffe5" d="M903.8,538.8 907.5,537.5 917.5,540 916.9,543.1 915,546.2 916.9,550 917.5,552.9 910,552.9 907.5,554.4 903.8,552.5 900,548.8 898.1,546.2 901.2,542.5Z"/>
<path fill="#ffffe5" d="M902.5,532.5 906.2,530 912.5,534.4 917.5,538.8 916.2,540 910,536.2 905,535Z"/>
<path fill="#d9d9d9" d="M139.4,370 142.5,368.8 145,365.6 147.5,363.8 155,363.8 155.6,366.2 151.2,368.8 146.2,370 143.8,371.9 140,371.2Z"/>
</g>
<g fill="none" stroke="#666" stroke-width="1" stroke-linejoin="round">
<path d="M146.25,480 152.5,478 160,477 162,472.5 165,466 168.75,460 171.25,458 177.5,459.4 183.75,458 192.5,462 200,460 207.5,453 215,453 220,459 237.5,459.5 250,454 257.5,451 262.5,453 272.5,449 275,444 287.5,440 295,439 314,436 325,441 332.5,446"/>
<path d="M332.5,446 341,445 344,441 361,445 362.5,440 356,434 357.5,429 366,425 364,419 352.5,411 351,400 345,396 354,392.5 370,389 386,385"/>
<path d="M386,385 386,379 392.5,370 396,352.5 410,351 412.5,345 420,336 434,329 437.5,332.5 442.5,328 454,322.5 451,312.5 457.5,307.5"/>
<path d="M386,385 387.5,382.5 399,381 401,386 410,386 411,390 421,390 425,397.5 435,396 442.5,399.5 447.5,397.5 454,402.5 462.5,399 464,394 469,391 470,381 477.5,382.5 487.5,389 492.5,385 496,387.5 501,384 510,389 520,397.5 525,396 535,400 541,405 550,409"/>
<path d="M472.5,307.5 479,320 484.5,330 479.5,335 492.5,346 494,352.5 500,350 507.5,347.5 519,346 526,349 525,360 512.5,367 519,367.5 532.5,375 539,384 550,390"/>
<path d="M333,444.5 338.8,447.5 333.8,457.5 333.8,465 340,472.5 337.5,486.2 345,496.2 355,503.8 367.5,505 380,511.2 395,513.8 407.5,517.5 417.5,517.5 426.2,514.5 435,520 440,525 442.5,531.2 450,532.5 453.8,536.2 457.5,530 463.8,533.8 465,527.5 473.8,526.2 476.2,516.2"/>
<path d="M476.2,516.2 487.5,518.8 493.8,525 497.5,535 501.2,540 498.8,547.5 503.8,555 505,570 506.2,585 506.2,592.5"/>
<path d="M506.2,592.5 500,605 491.2,603.8 487.5,606.2"/>
<path d="M476.2,516.2 478.8,500 476.2,490 485,482.5 493.8,485.5 500,497.5 510,508.8 517.5,511.2 521.2,507.5 525,515 535,516.2 543.8,513.8 542.5,505 550,502.5"/>
<path d="M506.2,592.5 511.2,606.2 517.5,592.5 525,602.5 528.8,613.8 535,612.5 542.5,625 550,640 556.2,648.8 565,645 572.5,642.5 577.5,640 575,630 580,620 585,610 592.5,597.5 600,597.5 602.5,610 612.5,607.5 617.5,613.8"/>
<path d="M617.5,613.8 615,620 600,622.5 592.5,622.5 588.8,630 592.5,640 600,636.2 606.2,642.5 602.5,650 600,656.2 607.5,665 608.8,672.5 603.8,677.5 606.2,682.5"/>
<path d="M606.2,682.5 615,687.5 627.5,690 633.8,692.5 632.5,700 625,705 620,705"/>
<path d="M606.2,682.5 615,671.2 630,677.5 635,670 645,667.5 650,660 655,661.2 662.5,667.5 670,662.5 677.5,660 685,655 692.5,652.5"/>
<path d="M617.5,613.8 635,612.5 635,607.5 625,602.5 625,597.5 635,595 640,598.8 650,591.2 657.5,586.2 667.5,587.5 672.5,592.5 680,602.5 688.8,605"/>
<path d="M635,595 625,587.5 620,577.5 627.5,561.2 637.5,562.5 645,566.2 655,560 660,550"/>
<path d="M705,550 692.5,552.5 682.5,556.2 675,560 675,572.5 682.5,578.8 688.8,586.2 690,595 688.8,605"/>
<path d="M688.8,605 691.2,615 682.5,627.5 693.8,630 691.2,640 692.5,652.5 697.5,650 705,647.5 710,650 720,642.5"/>
<path d="M688.8,586.2 692.5,577.5 702.5,573.8 710,572.5 712.5,567.5 720,566.2"/>
<path d="M700,572.5 710,573.8 715,566.2 727.5,568.8 737.5,573.8 747.5,577.5 756.2,573.8 760,578.8 766.2,573.8 768.8,581.2 773.8,587.5"/>
<path d="M773.8,587.5 780,582.5 790,578.8 800,573.8 811.2,572.5"/>
<path d="M811.2,572.5 822.5,568.8 825,575 830,570 837.5,575 845,578.8 848.8,581.2"/>
<path d="M848.8,581.2 847.5,587.5 852.5,595 855,603.8"/>
<path d="M855,603.8 860,606.2 862.5,618.8 872.5,617.5 877.5,623.8 887.5,622.5 891.2,626.2"/>
<path d="M855,603.8 845,608.8 835,613.8 828.8,617.5 830,625 820,633.8 821.2,642.5 815,652.5 810,662.5 807.5,672.5 806.2,680"/>
<path d="M773.8,587.5 776.2,595 778,602.5 776.2,622.5 773.8,628.8 771.2,635 776.2,647.5 772.5,655 773.8,663.8 782.5,663.8 787.5,667.5 780,677.5 790,678.8 800,675 806.2,680"/>
<path d="M806.2,680 817.5,675 825,682.5 827.5,692.5 830,700"/>
<path d="M773.8,663.8 765,662.5 760,661.2 753.8,667.5 755,672.5 747.5,668.8 740,670 737.5,676.2"/>
<path d="M737.5,676.2 738.8,685 732.5,693.8 727.5,702.5 728.8,711.2 717.5,718.8 711.2,727.5 707.5,737.5 700,743.8"/>
<path d="M737.5,676.2 730,678.8 725,672.5 720,670 722.5,662.5 727.5,655 725,645 718.8,643.8 710,648.8 700,645"/>
<path d="M910,91.9 913.8,96.2 910,101.2 903.8,106.9 912.5,113.1 918.8,110 923.8,110 930,114.4 931.2,123.8 936.2,133.8 947.5,131.9 960,133.1 968.8,131.2 973.8,126.9 980,128.8 986.2,133.8 990,139.4 985,147.5 981.2,152.5 976.2,158.8 975,167.5 976.2,175 968.8,178.1 963.8,187.5 961.9,198.8 959.4,190.6 942.5,201.2 926.2,212.5 928.1,218.1"/>
<path d="M950,196.2 942.5,201.2 933.8,207.5 925.6,213.8 930,220 933.8,223.1 937.5,226.9"/>
<path d="M937.5,226.9 941.2,225 943.8,221.9 947.5,223.8 946.9,227.5 941.2,228.1 936.2,230 936.2,233.8 941.2,236.2 951.2,235"/>
<path d="M937.5,236.2 932.5,240 930.6,247.5 923.8,244.4 920,246.2 915,241.9 911.2,246.2 916.2,248.8 918.8,255 921.9,256.2 918.8,263.8 921.2,270 923.8,277.5 931.2,275 937.5,272.5 941.2,278.8 943.1,281.2 944.4,290 941.9,293.1 948.1,293.8"/>
<path d="M951.2,235 953.8,240 953.8,246.2 958.8,250 963.8,253.8 970,251.9 977.5,253.1 983.8,251.9 986.2,256.2 990,258.8 996.2,257.5 1001.2,257.5 1006.2,260 1010,263.8 1008.8,268.8 1015,270 1018.1,276.2 1021.9,280.6 1026.2,278.8 1031.2,272.5 1034.4,277.5 1037.5,285 1041.2,291.9 1046.2,291.9 1048.8,286.2 1050,286.2"/>
<path d="M948.1,293.8 955,298.8 960,303.8 962.5,305.6 968.8,300 970,307.5 973.8,315 976.2,320 980,321 976,330 985,345 1000,335"/>
<path d="M948.1,293.8 947.5,300 943.8,303.1 938.8,306.2 933.8,308.8 930,308.1"/>
<path d="M780,321.9 783.8,320 788.8,320 790.6,322.5 791.2,330.6 796.2,331.9 801.2,327.5 808.8,325 811.2,327.5 821.2,325 825.6,321.2 826.9,317.5 828.8,315 834.4,314.4 835.6,311.9 842.5,311.9 845.6,317.5 849.4,321.2 851.9,326.2 848.8,329.4 852.5,336.9 861.2,337.5 867.5,338.1"/>
<path d="M867.5,338.1 871.2,333.1 870,327.5 868.8,321.2 870,317.5 873.1,315.6 878.8,320 881.2,322.5 884.4,330 887.5,325 892.5,320.6 896.2,318.8 905,315.6 912.5,313.8 916.9,309.4 925,307.5 930,306.2"/>
<path d="M867.5,338.1 862.5,342.5 861.2,346.2 863.8,350.6 867.5,352.5 875,355 876.9,360 878.8,365"/>
<path d="M820.6,343.8 822.5,344.4 827.5,350 835,350.6 836.2,351.9 832.5,353.8 833.8,357.5 837.5,360 835,361.9 832.5,363.8 827.5,363.1 823.8,365 823.8,370 824.4,372.5 820,373.1 817.5,375.6 811.9,374.4 803.1,372.5 800.6,369.4 801.2,365 806.2,360.6 806.9,356.9 805.6,353.8 812.5,351.2 817.5,346.2 820.6,343.8"/>
<path d="M837.5,360 841.2,363.8 838.8,365 838.8,369.4 842.5,372.5 845,376.2 847.5,379.4"/>
<path d="M824.4,372.5 825,381.2 826.2,390"/>
<path d="M827.5,365 831.2,365 831.2,371.2 828.1,371.9 827.5,365"/>
<path d="M725,373.5 721.2,373.1 722.5,377.5 728.8,371.9 736.9,370 741.2,363.8 745,359.4 748.8,358.8 752.5,360 758.8,356.2 765,357.5 770,355 775,352.5 775.6,346.2"/>
<path d="M775.6,346.2 777.5,350 780,357.5 783.1,358.1 777.5,360 773.8,363.8 777.5,366.2 781.2,366.9 783.1,375 783.1,381.2"/>
<path d="M775.6,346.2 771.2,342.5 773.1,335 778.1,332.5 777.5,327.5 783.1,321.9 788.1,320"/>
<path d="M783.1,381.2 777.5,383.8 771.9,385 768.8,393.8 766.2,397.5 770,402.5 775,411.2 776.2,413.1 770,426.2 766.2,431.2 768.8,440 767.5,431.2 770,439.4"/>
<path d="M728.8,371.9 722.5,377.5 720.6,390 712.5,400 714.4,410 716.2,415 710.6,427.5 709.4,440 710,427.5 711.2,445 712.5,452.5 708.8,463.8 706.9,473.8 713.8,485 720,495 720,502.5"/>
<path d="M783.1,381.2 785,375 790,371.9 796.2,369.4 800,366.2"/>
<path d="M706.9,473.8 721.2,471.2 731.2,467.5 740,461.2 750,461.2 760,456.2 766.2,453.8 768.8,447.5 770,439.4"/>
<path d="M720,502.5 725,510 733.8,516.2 743.8,520 757.5,520 762.5,522.5 768.8,520 770,527.5 775,532.5 783.8,533.8 786.2,537.5 793.8,537.5 798.8,538.8 805,543.8 811.2,548.8 806.2,555 808.8,561.2 811.2,570"/>
<path d="M720,502.5 702.5,503.1 692.5,503.8 698.8,506.2 705,512.5 693.8,517.5 695,532.5 690,533.8"/>
<path d="M695,532.5 703.8,540 705,550 696.2,552.5 690,558.8"/>
<path d="M770,439.4 775,440 782.5,441.9 790,443.1 800,441.2 800,447.5 806.2,446.2 811.2,445"/>
<path d="M800,447.5 793.8,458.8 790,463.8 792.5,467.5 796.2,470 800,473.8 807.5,475 815,475 818.8,482.5 821.2,488.8 826.2,487.5 825,493.8 827.5,500"/>
<path d="M802.5,487.5 801.2,492.5 798.8,496.2 796.2,500 790,505 793.8,510 795,515 800,516.2 806.2,518.8 808.8,516.2 808.8,523.8 807.5,531.2 802.5,533.8 798.8,538.8"/>
<path d="M821.2,488.8 815,492.5 811.2,488.8 810,485 805,485 802.5,487.5"/>
<path d="M711.2,570 716.2,566.2 722.5,567.5 727.5,570"/>
<path d="M800,432.5 808.8,423.8 815,415 825,408.8 836.2,406.2 843.8,400"/>
<path d="M823.8,373.8 826.2,380 823.8,383.8 822.5,388.8 831.2,393.1 839.4,394.4"/>
<path d="M816.2,473.8 817.5,469.4 826.9,467.5 830,473.8 832.5,477.5 837.5,476.2 842.5,473.8 847.5,473.8 850,478.8 853.8,476.2 857.5,473.8 862.5,467.5 867.5,466.2"/>
<path d="M813.8,476.2 815,478.8 820,482.5 826.9,487.5 828.8,483.8 838.8,486.2 841.2,491.2 847.5,493.8 848.8,495 846.2,500 845,502.5 850,503.8 852.5,512.5 856.2,513.8 857.5,516.2 862.5,518.8 868.1,516.2 868.8,511.2"/>
<path d="M800,488.8 802.5,486.2 807.5,486.2 811.2,490 813.8,491.2 820,487.5 826.9,487.5"/>
<path d="M800,451.2 811.2,444.4 811.9,445.6 801.2,453.1"/>
<path d="M845,501.2 850,505 851.2,510 854.4,512.5 858.8,511.9 861.9,508.1 865,508.8 868.1,512.5 867.5,515.6 857.5,516.2 858.1,521.2 853.1,527.5 856.2,532.5 860.6,536.2 861.2,541.2 866.2,542.5 871.2,543.8 875,546.2 878.8,543.8 882.5,546.2 887.5,550 891.2,551.9 895,549.4 898.1,546.2"/>
<path d="M898.1,546.2 901.9,541.9 906.2,538.1 909.4,535.6"/>
<path d="M898.1,546.2 900,548.8 903.8,552.5 907.5,554.4"/>
<path d="M875,546.2 872.5,552.5 870,555.6 869.4,560 862.5,563.1 860.6,566.2 856.9,571.2 851.2,577.5 848.1,581.2 846.9,587.5 848.1,590"/>
<path d="M820,567.5 823.8,567.5 825.6,570 822.5,573.8 826.2,576.2 832.5,570.6 836.2,572.5 838.8,576.2 845,578.8 848.1,581.2"/>
<path d="M546.7,387.5 553.3,392.5 560,387.5 555,382.5 566.7,380 576.7,382.5 583.3,377.5 594.2,375.8 598.3,380 597.5,385 591.7,390 586.7,395 583.3,405 585.8,410 594.2,415.8 597.5,417.5 603.3,416.7"/>
<path d="M541.7,405 551.7,410.8 560,412.5 565.8,419.2 570.8,424.2 570,431.7 574.2,438.3 576.7,442.5 570,448.3 568.3,455.8 563.3,460.8 558.3,469.2 558.3,476.7 561.7,480 555,483.3 546.7,481.7 538.3,479.2 536.7,483.3 543.3,491.7 550,495 551.7,500 555,496.7 556.7,503.3 551.7,505 546.7,502.5 543.3,504.2 543.3,510.8 535.8,515.8 530,513.3"/>
<path d="M556.7,503.3 562.5,501.7 565.8,499.2 563.3,496.7 561.7,488.3 563.3,487.5 575,481.7 578.3,485.8 580,490.8 588.3,493.3 596.7,496.7 599.2,501.7 601.7,506.7 600,510.8 603.3,514.2 610,515 618.3,513.3 621.7,510 625.8,512.5 628.3,510"/>
<path d="M631.7,380.8 629.2,390 627.5,398.3 626.7,409.2 616.7,412.5 603.3,416.7 608.3,420 613.3,425 617.5,431.7 620.8,438.3 625,442.5 620,444.2 619.2,448.3 623.3,451.7 628.3,455 633.3,457.5 636.7,460.8 639.2,460 639.2,451.7 645,450 645.8,448.3 647.5,442.5 640.8,440.8 638.3,435 640.8,430 640.8,424.2 653.3,423.3 653.3,416.7 655,413.3 660,408.3 653.3,402.5 645,400 646.7,385 647.5,381.7 645,376.7 636.7,378.3 631.7,380.8"/>
<path d="M660,408.3 666.7,412.5 675,411.7 680,406.7 683.3,400 688.3,393.3 696.7,383.3 705,375.8 710,378.3 721.7,373.3 725,375"/>
<path d="M645.8,448.3 647.5,454.2 658.3,456.7 663.3,460.8 661.7,466.7 653.3,468.3 648.3,465 640,465 639.2,471.7 636.7,476.7 640,481.7 638.3,488.3 640,496.7 633.3,496.7 627.5,498.3 626.7,503.3 630,508.3 628.3,510"/>
<path d="M628.3,510 636.7,512.5 646.7,514.2 651.7,517.5 661.7,520 671.7,523.3 675,524.2"/>
<path d="M675,524.2 683.3,528.3 690,532.5 696.7,533.3 703.3,540 705,550"/>
<path d="M675,524.2 671.7,528.3 675,533.3 671.7,538.3 666.7,550"/>
<path d="M1048.8,286.9 1057.5,285 1058.8,283.1 1061.2,283.1 1062.5,285 1067.5,283.8 1068.8,288.8 1072.5,290.6 1077.5,293.1 1085,294.4"/>
<path d="M304,177 291,177 285,180 284,189 267.5,192.5 264,197.5 264,204 265,217.5 254,224 235,221 220,217 212.5,230 205,246 210,257.5 195,255 162.5,264 171,272.5 172.5,285 178,299 167.5,307.5 167.5,322.5 150,329 130,337.5 122.5,345 107.5,343 101.2,356.2 95,355.6 87.5,358.1 85.6,353.8 83.8,351.2 77.5,353.8 70.6,355 71.2,356.9 65,360 56.2,363.1 53.8,366.2 54.4,373.1 47.5,376.2 48.1,379.4 52.5,383.1 50.6,387.5 52.5,391.2 53.8,393.8 57.5,392.5 63.8,391.9 70,395 71.2,400.6 71.9,405 74.4,409.4 71.9,412.5 76.2,415 76.9,418.1 72.5,420 65,421.2 65,423.8 70,425.6 73.8,425.6 80,426.2 82.5,430 87.5,431.2 90,433.8 93.1,439.4 91.2,443.8 95,448.8 101.2,447.5 103.8,451.2 108.1,453.1 113.8,455.6 120,456.9 124.4,455.6 129.4,456.2 130,463.8 132.5,470 135,475 140,476.2 146.2,480 145,483.8 140,486.2 141.2,490 142.5,497.5 149.5,505 150,516 145,520 141,514 135,517 136,525 141,532.5 145,546 157.5,549 165,556 175,560 185,568 191,560 200,562 207.5,570 221,577.5 227.5,585 239,584 241,592.5 255,597.5 257.5,604 266,603 271,611 282.5,607.5 291,613 302.5,612.5 317.5,607.5 322.5,612.5 322.5,622.5 326.2,625 330,615 338.8,606.2 350,607.5 362.5,612.5 367.5,608.8 372.5,613.8 372.5,618.8 378.8,621.2 381.2,632.5 395,632 408.8,631.2 413.8,623.8 420,618.8 430,615 438.8,610 447.5,604.5 457.5,606.2 470,613.8 475,610 476.2,603.8 480,598.8 487.5,606.2 493.8,617.5 500,618.8 500,632.5 498.8,645 496.2,655 491.2,660 483.8,667.5 478.8,677.5 481.2,685 478.8,692.5 490,690 500,688.8 501.2,697.5 505,707.5 513.8,711.2 512.5,720 508.8,728.8 520,731.2 525,740 531.2,742.5 540,737.5 543.8,740 546.2,747.5 555,748 555,737.5 551.2,730 553.8,722.5 563.8,722.5 567.5,717.5 577.5,722.5 583.8,716.2 586.2,720 591.2,716.2 595,720 600,715 607.5,712.5 612.5,707.5 618.8,704.5 625,710 632.5,712.5 642.5,713.8 645,717.5 641.2,723.8 643.8,732.5 652.5,737.5 660,740 670,741.2 677.5,738.8 687.5,742.5 697.5,743.8 700,745 697.5,755 701,762.5 705,767.5 711,767.5 712.5,766 710,760 707.5,755 712.5,747.5 725,742.5 737.5,737.5 750,740 755,735 765,730 770,721.2 772.5,727.5 782.5,726.2 785,720 792.5,717.5 802.5,717.5 812.5,713.8 822.5,707.5 827.5,701.2 836.2,700 845,690 847.5,682.5 855,680 862.5,670 870,665 876.2,660 875,650 878.8,645 880,636.2 887.5,630 892.5,622.5 897.5,616.2 902.5,611.2 907.5,605 913.8,600 912.5,592.5 917.5,587.5 918.8,577.5 917.5,582.5 916.9,577.5 918.8,573.8 915,570 910,565 905,560 901.2,556.9 907.5,554.4 910,552.9 917.5,552.9 916.9,550 915,546.2 916.9,543.1 920,541.9 917.5,537.5 916.9,532.5 913.8,527.5 908.8,523.8 906.2,518.8 900,515 898.8,508.1 896.2,501.2 893.1,493.8 892.5,493.8 888.8,485 886.2,480 877.5,476.2 872.5,471.9 868.1,470 867.5,466.2 869.4,465 872.5,461.2 875,456.2 880,452.5 886.2,447.5 890,443.8 893.8,442.5 896.2,436.9 900,434.4 906.2,431.9 912.5,428.8 917.5,426.9 921.9,428.8 926.2,428.8 928.8,423.8 930.6,418.1 925,416.9 920,415 912.5,415.6 906.2,413.1 900,410 895,408.8 890,410.6 885,413.1 878.8,418.8 876.2,423.1 870,422.5 865,420 862.5,416.2 864.4,413.1 868.1,411.9 869.4,408.8 865.6,406.2 862.5,402.5 855,403.1 850,401.9 843.8,398.8 839.4,394.4 840,391.2 843.8,386.2 844.4,378.8 855,385.6 860,381.9 866.2,378.8 868.8,376.2 872.5,372.5 880,366.2 890,361.2 895,355 900,348.8 906.2,346.2 911.2,346.2 915.6,346.9 920,350.6 922.5,353.8 917.5,360 911.2,366.2 905,372.5 903.8,375 907.5,377.5 911.2,378.8 911.9,383.8 905,386.2 901.2,387.5 903.8,390 911.2,386.2 917.5,382.5 925,377.5 931.2,373.8 937.5,370 937.5,371.2 945,368.1 952.5,368.1 957.5,366.2 962.5,361.2 967.5,357.5 972.5,353.8 977.5,350 983.1,346.2 990,342.5 997.5,337.5 1001.2,331.2 1006.2,327.5 1006.2,328.8 1010,332.5 1022.5,335 1030,332.5 1027.5,323.8 1035,323.8 1047.5,321.2 1050,315 1055,313.8 1058.8,305 1065,305 1072.5,315 1080,306.2 1085,300 1080,306.2 1082.5,303.8 1083.1,297.5 1085.6,295 1085,292.5 1084.4,281.2 1082.5,275 1081.2,268.8 1078.8,266.2 1082.5,263.8 1087.5,261.9 1091.2,258.8 1095,255.6 1100,258.8 1107.5,259.4 1114.4,261.9 1116.9,258.8 1117.5,252.5 1120,251.9 1123.8,249.4 1123.1,246.2 1126.2,242.5 1128.8,240 1132.5,234.4 1131.2,231.2 1133.8,227.5 1135,222.5 1138.1,218.8 1137.5,213.8 1143.8,211.2 1147.5,206.2 1145,203.1 1143.8,200 1145,195.6 1148.8,194.4 1152.5,193.5 1152.5,191.9 1148.8,193.1 1145,192.8 1137.5,192.8 1130,194.4 1123.8,196.9 1116.2,198.8 1108.8,203.1 1105,206.9 1092.5,208.1 1086.2,207.5 1079.4,207.5 1078.1,203.1 1075,197.5 1076.2,196.2 1075,193.8 1075.6,190.6 1073.8,190 1071.9,186.2 1073.8,183.1 1067.5,183.1 1063.8,181.2 1060,177.5 1055,175 1051.2,171.9 1046.2,173.1 1042.5,171.2 1038.8,168.8 1032.5,168.8 1025,168.8 1020,167.5 1017.5,157.5 1014,146 1010,140.6 1006.9,136.2 1005,130 1001.2,122.5 997.5,116.2 995,110 990,103.8 985,100.6 980,96.2 972.5,94.4 966.2,95.6 958.8,91.9 950,88.1 940,86.9 925,90 923.8,88.8 910,91.9 896.2,93.1 888.8,100 882.5,103.8 882.5,106.2 893.8,107.5 893.8,111.2 896.2,116.9 891.2,121.2 882.5,127.5 878.8,135 872.5,142.5 866.9,152.5 870.6,156.2 866.9,160 860,161.2 850,164.5 837.5,169 822.5,164 812.5,182.5 806,196 801,200 810,207 820,204 830,204 835,208 844,201 850,201 860,205 871,212.5 880,224 876,229 862.5,230 850,229.5 837.5,230 825,235 815,241 814,246 805,252.5 786,254.5 780,260 765,267 750,264 739,260.5 735,265 728,274 730,279 737.5,286 735,290 725,295 710,307.5 700,310 695,314 680,315 657.5,314.5 642.5,317.5 625,324 612.5,331 606,330.5 604,327 592.5,326 575,321 560,319.5 556,314 550,314 544,310.5 530,309.5 510,312 490,310 472.5,307.5 457.5,307.5 450,299 444,286 440,277.5 430,276 415,267.5 402.5,262.5 385,262 372.5,260.5 359,258 355,250 361,241 360,237.5 361,225 354,217.5 350,209 344,204 336,201 326,201 317.5,194 309,189.5 305,184Z"/>
<path d="M677.9,785.8 687.5,777.5 689.2,774.6 695,772.5 697.5,772.9 704.2,772.1 709.2,770.4 714.2,769.6 717.5,772.1 719.6,772.5 721.7,778.3 721.2,781.2 717.5,784.2 714.2,788.3 712.5,795 712.1,800 705.8,802.5 702.5,805.8 698.3,808.3 694.2,811.2 689.2,809.2 683.3,806.7 678.3,804.2 677.1,801.7 677.9,797.5 677.1,793.3Z"/>
<path d="M910,664.5 917.5,670 915,682.5 910,695 905,710 900,720 897.5,733.8 895,733.8 892.5,725 885,715 883.8,700 890,687.5 897.5,675 905,666.2Z"/>
<path d="M902.5,532.5 906.2,530 912.5,534.4 917.5,538.8 916.2,540 910,536.2 905,535Z"/>
</g>
<g fill="none" stroke="#666" stroke-width="1.2">
<path d="M883,791.5 872.5,814"/>
<path d="M865,853 865,875.5" stroke-width="2"/>
<path d="M863.5,936.4 860.5,949 855.4,959.5"/>
<path d="M814.9,1018 801.4,1035.4"/>
<path d="M753.4,1105.6 734.5,1111.6"/>
<path d="M670,1037.5 669.4,1048 671.5,1058.5"/>
<path d="M708.4,931.6 707.2,943 703.6,952"/>
<path d="M689.5,850 696.4,862 699.4,872.5"/>
<path d="M932.5,679.5 927,702"/>
<path d="M916,739 902.5,756"/>
<path d="M882.5,792.5 872.5,813.75"/>
</g>
<g fill="#666">
<circle cx="756.4" cy="783.4" r="1"/>
<circle cx="771.4" cy="789.4" r="1"/>
<circle cx="823" cy="847.6" r="1"/>
<circle cx="841.6" cy="871.6" r="1"/>
<circle cx="799" cy="896.5" r="1"/>
<circle cx="730" cy="833.5" r="1"/>
<circle cx="743.5" cy="836.5" r="1"/>
<circle cx="731.5" cy="845.5" r="1"/>
<circle cx="737.5" cy="848.5" r="1"/>
<circle cx="748" cy="847" r="1"/>
<circle cx="733" cy="850" r="1"/>
<circle cx="746.5" cy="851.5" r="1"/>
<circle cx="742" cy="859" r="1"/>
<circle cx="730" cy="850" r="1"/>
<circle cx="775" cy="856" r="1"/>
<circle cx="781" cy="853.6" r="1"/>
<circle cx="787" cy="851.5" r="1"/>
<circle cx="784" cy="862" r="1"/>
<circle cx="772" cy="865" r="1"/>
<circle cx="786.1" cy="947.5" r="1"/>
<circle cx="823.6" cy="947.5" r="1"/>
<circle cx="784" cy="958" r="1"/>
<circle cx="790" cy="956.5" r="1"/>
<circle cx="776.5" cy="959.5" r="1"/>
<circle cx="833.5" cy="956.5" r="1"/>
<circle cx="842.5" cy="961" r="1"/>
<circle cx="832" cy="964" r="1"/>
<circle cx="820" cy="968.5" r="1"/>
<circle cx="806.5" cy="967" r="1"/>
<circle cx="767.5" cy="973" r="1"/>
<circle cx="779.5" cy="971.5" r="1"/>
<circle cx="787" cy="970" r="1"/>
<circle cx="811" cy="974.5" r="1"/>
<circle cx="833.5" cy="973" r="1"/>
<circle cx="772" cy="976" r="1"/>
<circle cx="787" cy="980.5" r="1"/>
<circle cx="802" cy="979" r="1"/>
<circle cx="808" cy="983.5" r="1"/>
<circle cx="818.5" cy="982" r="1"/>
<circle cx="800.5" cy="989.5" r="1"/>
<circle cx="809.5" cy="991" r="1"/>
<circle cx="778" cy="989.5" r="1"/>
<circle cx="820" cy="995.5" r="1"/>
<circle cx="815.5" cy="998.5" r="1"/>
<circle cx="823" cy="997" r="1"/>
<circle cx="748" cy="986.5" r="1"/>
<circle cx="769" cy="997" r="1"/>
<circle cx="773.5" cy="1000" r="1"/>
<circle cx="785.5" cy="1000" r="1"/>
<circle cx="742" cy="1000" r="1"/>
<circle cx="752.5" cy="1000" r="1"/>
<circle cx="730" cy="1006" r="1"/>
<circle cx="796" cy="1009" r="1"/>
<circle cx="802" cy="1007.5" r="1"/>
<circle cx="755.5" cy="1009" r="1"/>
<circle cx="761.5" cy="1015" r="1"/>
<circle cx="712" cy="1016.5" r="1"/>
<circle cx="702.4" cy="1020.4" r="1"/>
<circle cx="694" cy="1030" r="1"/>
<circle cx="733" cy="1021" r="1"/>
<circle cx="730" cy="1027" r="1"/>
<circle cx="737.5" cy="1017.4" r="1"/>
<circle cx="772" cy="1027" r="1"/>
<circle cx="787" cy="1015" r="1"/>
<circle cx="790" cy="1027" r="1"/>
<circle cx="788.5" cy="1033.6" r="1"/>
<circle cx="767.5" cy="1039" r="1"/>
<circle cx="760" cy="1052.5" r="1"/>
<circle cx="748" cy="1060" r="1"/>
<circle cx="746.5" cy="1066" r="1"/>
<circle cx="748.6" cy="1070.5" r="1"/>
<circle cx="754" cy="1078.6" r="1"/>
<circle cx="749.5" cy="1077.4" r="1"/>
<circle cx="740.5" cy="1102" r="1"/>
<circle cx="742.6" cy="1100.5" r="1"/>
</g>
<path d="M772,1025.5 779.5,1020.4 784.6,1019.5 781,1025.5 775.6,1027.6Z" fill="#d9d9d9" stroke="#666" stroke-width="0.8"/>
<g fill="#666">
<rect x="877.2" y="634.8" width="1.6" height="1.2"/>
<rect x="880.5" y="634.4" width="1.6" height="1.2"/>
<rect x="879.4" y="635.8" width="1.6" height="1.2"/>
<rect x="874.6" y="636.5" width="1.6" height="1.2"/>
<rect x="874.4" y="636.2" width="1.6" height="1.2"/>
<rect x="874.7" y="634.5" width="1.6" height="1.2"/>
<rect x="878.2" y="638.1" width="1.6" height="1.2"/>
<rect x="875.2" y="635.1" width="1.6" height="1.2"/>
<rect x="880.3" y="638.7" width="1.6" height="1.2"/>
<rect x="872.4" y="663.4" width="1.6" height="1.2"/>
<rect x="879.6" y="659.5" width="1.6" height="1.2"/>
<rect x="877.5" y="662.2" width="1.6" height="1.2"/>
<rect x="864.6" y="660.3" width="1.6" height="1.2"/>
<rect x="867.6" y="668" width="1.6" height="1.2"/>
<rect x="865.3" y="665.4" width="1.6" height="1.2"/>
<rect x="873.5" y="663.1" width="1.6" height="1.2"/>
<rect x="871.9" y="659.7" width="1.6" height="1.2"/>
<rect x="863.1" y="661.3" width="1.6" height="1.2"/>
<rect x="874.2" y="663.7" width="1.6" height="1.2"/>
<rect x="867.7" y="665.4" width="1.6" height="1.2"/>
<rect x="870.2" y="662.3" width="1.6" height="1.2"/>
<rect x="876.3" y="666.7" width="1.6" height="1.2"/>
<rect x="866.4" y="665.3" width="1.6" height="1.2"/>
<rect x="851.2" y="683.5" width="1.6" height="1.2"/>
<rect x="852.8" y="681.2" width="1.6" height="1.2"/>
<rect x="854.8" y="680.5" width="1.6" height="1.2"/>
<rect x="850.3" y="683" width="1.6" height="1.2"/>
<rect x="848.2" y="682" width="1.6" height="1.2"/>
<rect x="847.3" y="682.7" width="1.6" height="1.2"/>
<rect x="829.1" y="702.7" width="1.6" height="1.2"/>
<rect x="829.5" y="701.9" width="1.6" height="1.2"/>
<rect x="828.8" y="702.8" width="1.6" height="1.2"/>
<rect x="828.3" y="702.4" width="1.6" height="1.2"/>
<rect x="780.4" y="726.6" width="1.6" height="1.2"/>
<rect x="776.7" y="724.6" width="1.6" height="1.2"/>
<rect x="772.6" y="724.9" width="1.6" height="1.2"/>
<rect x="778.5" y="727" width="1.6" height="1.2"/>
<rect x="780.2" y="722" width="1.6" height="1.2"/>
<rect x="775.9" y="724.7" width="1.6" height="1.2"/>
<rect x="772.2" y="723.2" width="1.6" height="1.2"/>
<rect x="773.7" y="720.8" width="1.6" height="1.2"/>
<rect x="772.6" y="725.4" width="1.6" height="1.2"/>
<rect x="773.3" y="721.7" width="1.6" height="1.2"/>
<rect x="749.7" y="740.4" width="1.6" height="1.2"/>
<rect x="747.6" y="738.2" width="1.6" height="1.2"/>
<rect x="750.8" y="740.4" width="1.6" height="1.2"/>
<rect x="752.7" y="740.3" width="1.6" height="1.2"/>
<rect x="748.9" y="738.1" width="1.6" height="1.2"/>
<rect x="749.5" y="740.4" width="1.6" height="1.2"/>
<rect x="711.8" y="750.9" width="1.6" height="1.2"/>
<rect x="707.9" y="751.4" width="1.6" height="1.2"/>
<rect x="708.2" y="752.9" width="1.6" height="1.2"/>
<rect x="709.9" y="751.6" width="1.6" height="1.2"/>
<rect x="900" y="611.1" width="1.6" height="1.2"/>
<rect x="901.5" y="611.8" width="1.6" height="1.2"/>
<rect x="903.8" y="612.5" width="1.6" height="1.2"/>
<rect x="902.1" y="612.1" width="1.6" height="1.2"/>
<rect x="916" y="598.2" width="1.6" height="1.2"/>
<rect x="916.7" y="601.1" width="1.6" height="1.2"/>
<rect x="916.6" y="601.2" width="1.6" height="1.2"/>
<rect x="933.5" y="381.6" width="1.6" height="1.2"/>
<rect x="930.9" y="382.5" width="1.6" height="1.2"/>
<rect x="930.6" y="380.3" width="1.6" height="1.2"/>
<rect x="931.9" y="380.6" width="1.6" height="1.2"/>
<rect x="933.1" y="380.2" width="1.6" height="1.2"/>
<rect x="896" y="398.3" width="1.6" height="1.2"/>
<rect x="896.3" y="398.7" width="1.6" height="1.2"/>
<rect x="892.6" y="407.3" width="1.6" height="1.2"/>
<rect x="894" y="405.9" width="1.6" height="1.2"/>
<rect x="915.8" y="588.8" width="1.6" height="1.2"/>
<rect x="916.1" y="586.4" width="1.6" height="1.2"/>
<rect x="917.5" y="595.9" width="1.6" height="1.2"/>
<rect x="916.4" y="590.3" width="1.6" height="1.2"/>
<rect x="915.3" y="586.1" width="1.6" height="1.2"/>
<rect x="906.7" y="622.6" width="1.6" height="1.2"/>
<rect x="909.1" y="621.6" width="1.6" height="1.2"/>
<rect x="905.1" y="629.5" width="1.6" height="1.2"/>
<rect x="907.6" y="621.5" width="1.6" height="1.2"/>
<rect x="890.7" y="640.3" width="1.6" height="1.2"/>
<rect x="890.6" y="649.8" width="1.6" height="1.2"/>
<rect x="892.3" y="647" width="1.6" height="1.2"/>
<rect x="889.3" y="643.7" width="1.6" height="1.2"/>
<rect x="810" y="752.5" width="1.6" height="1.2"/>
<rect x="825" y="758.75" width="1.6" height="1.2"/>
<rect x="756" y="782.5" width="1.6" height="1.2"/>
<rect x="771" y="789" width="1.6" height="1.2"/>
<rect x="873.75" y="700" width="1.6" height="1.2"/>
<rect x="871" y="707.5" width="1.6" height="1.2"/>
<rect x="943.75" y="655" width="1.6" height="1.2"/>
<rect x="963.75" y="651" width="1.6" height="1.2"/>
<rect x="920" y="660" width="1.6" height="1.2"/>
<rect x="908.75" y="718.75" width="1.6" height="1.2"/>
<rect x="909.5" y="731" width="1.6" height="1.2"/>
<rect x="926" y="554" width="1.6" height="1.2"/>
<rect x="932" y="555" width="1.6" height="1.2"/>
<rect x="924" y="560" width="1.6" height="1.2"/>
<rect x="922" y="563" width="1.6" height="1.2"/>
<rect x="919" y="562" width="1.6" height="1.2"/>
<rect x="931.5" y="566.3" width="1.6" height="1.2"/>
<path d="M915.3,566.7 918,565.3 922.7,566 925.3,568 927,569.7 925.3,572.7 923.3,574.7 921.3,576.7 918.7,574 917.3,572 914.7,569.3Z"/>
</g>
<path d="M918.5,567.5h3v1.5h-3zM919.5,571h2v1.2h-2z" fill="#d9d9d9"/>
<g fill="#000"><rect x="24" y="24" width="1" height="1152"/><rect x="24" y="24" width="1152" height="1"/><rect x="1174" y="24" width="2" height="1152"/><rect x="24" y="1174" width="1152" height="2"/></g>
<text y="106" font-size="51" fill="#000"><tspan class="cjk" x="49.5" y="108.5" font-size="53" textLength="153" lengthAdjust="spacing">父系：</tspan><tspan class="lat" x="219.5" y="106" textLength="303" lengthAdjust="spacingAndGlyphs">O-CTS1011_</tspan><tspan class="lat" x="535" y="106">(</tspan><tspan class="cjk" x="553.5" y="108.5" font-size="52" textLength="206" lengthAdjust="spacing">不含下游</tspan><tspan class="lat" x="763" y="106">)</tspan></text>
<text x="54" y="786" font-size="36.5" class="cjk" fill="#000" textLength="146" lengthAdjust="spacingAndGlyphs">相对占比</text>
<rect x="57.5" y="805.5" width="33.3" height="33.7" fill="#ffffe5"/>
<text class="lat" x="100" y="832.8" font-size="26.5" fill="#000" textLength="217.5" lengthAdjust="spacingAndGlyphs">0.039% - 0.090%</text>
<rect x="57.5" y="839" width="33.3" height="33.7" fill="#fff8c1"/>
<text class="lat" x="100" y="866.3" font-size="26.5" fill="#000" textLength="217.5" lengthAdjust="spacingAndGlyphs">0.090% - 0.151%</text>
<rect x="57.5" y="872.5" width="33.3" height="33.7" fill="#fee79b"/>
<text class="lat" x="100" y="899.8" font-size="26.5" fill="#000" textLength="217.5" lengthAdjust="spacingAndGlyphs">0.151% - 0.219%</text>
<rect x="57.5" y="906" width="33.3" height="33.7" fill="#fece65"/>
<text class="lat" x="100" y="933.3" font-size="26.5" fill="#000" textLength="217.5" lengthAdjust="spacingAndGlyphs">0.219% - 0.287%</text>
<rect x="57.5" y="939.5" width="33.3" height="33.7" fill="#feac3a"/>
<text class="lat" x="100" y="966.8" font-size="26.5" fill="#000" textLength="217.5" lengthAdjust="spacingAndGlyphs">0.287% - 0.362%</text>
<rect x="57.5" y="973" width="33.3" height="33.7" fill="#f68720"/>
<text class="lat" x="100" y="1000.3" font-size="26.5" fill="#000" textLength="217.5" lengthAdjust="spacingAndGlyphs">0.362% - 0.461%</text>
<rect x="57.5" y="1006.5" width="33.3" height="33.7" fill="#e1640e"/>
<text class="lat" x="100" y="1033.8" font-size="26.5" fill="#000" textLength="217.5" lengthAdjust="spacingAndGlyphs">0.461% - 0.552%</text>
<rect x="57.5" y="1040" width="33.3" height="33.7" fill="#c14702"/>
<text class="lat" x="100" y="1067.3" font-size="26.5" fill="#000" textLength="217.5" lengthAdjust="spacingAndGlyphs">0.552% - 0.641%</text>
<rect x="57.5" y="1073.5" width="33.3" height="33.7" fill="#933204"/>
<text class="lat" x="100" y="1100.8" font-size="26.5" fill="#000" textLength="217.5" lengthAdjust="spacingAndGlyphs">0.641% - 0.896%</text>
<rect x="57.5" y="1107" width="33.3" height="33.7" fill="#662506"/>
<text class="lat" x="100" y="1134.3" font-size="26.5" fill="#000" textLength="217.5" lengthAdjust="spacingAndGlyphs">0.896% - 1.227%</text>
<text x="945.5" y="1137" font-size="27.5" fill="#111"><tspan class="cjk" textLength="56" lengthAdjust="spacingAndGlyphs">作者</tspan><tspan class="lat" x="1001.5">:O1a</tspan><tspan class="cjk" x="1060" textLength="85" lengthAdjust="spacingAndGlyphs">溯源群</tspan></text>
</svg></body></html>
